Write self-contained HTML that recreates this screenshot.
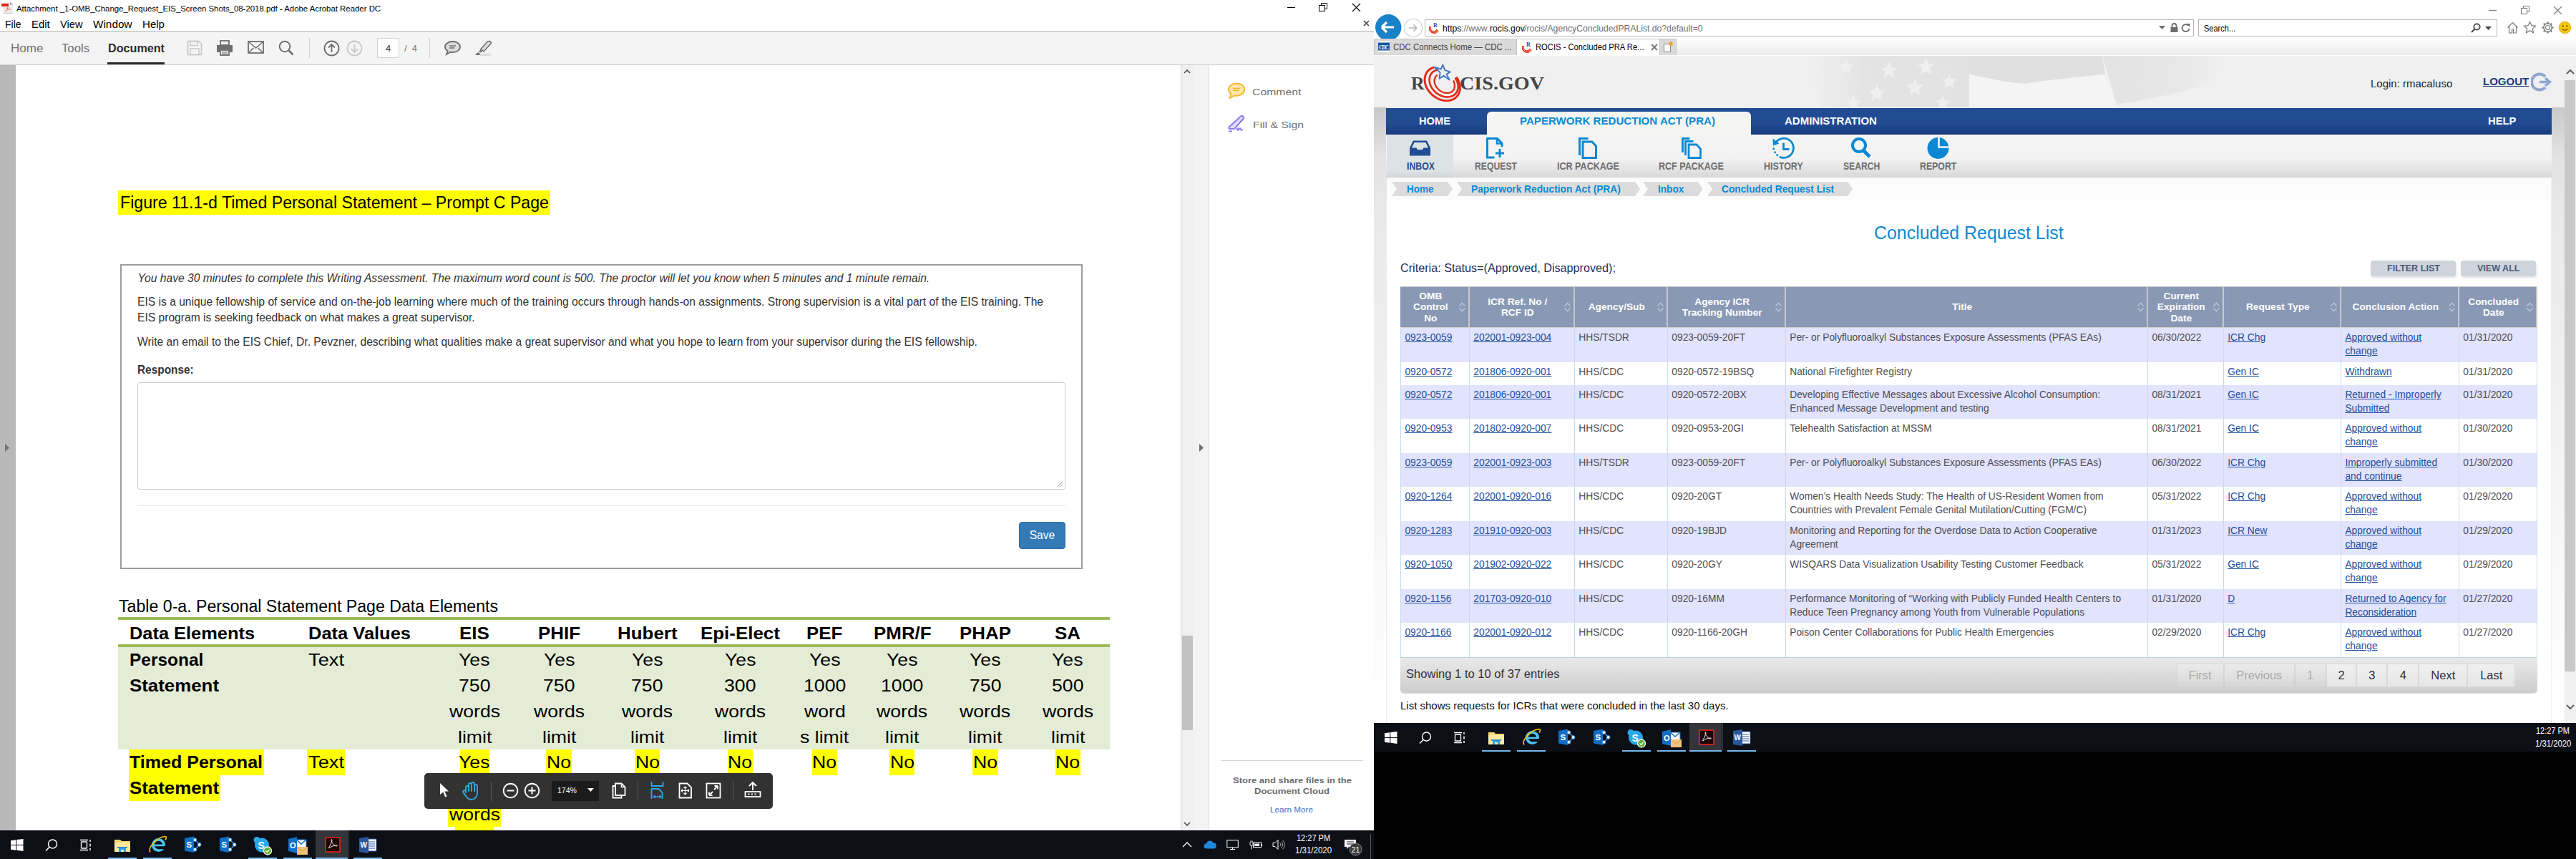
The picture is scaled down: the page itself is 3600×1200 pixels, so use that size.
<!DOCTYPE html><html><head><meta charset="utf-8"><style>
html,body{margin:0;padding:0;width:3600px;height:1200px;overflow:hidden;background:#000;}
body{position:relative;font-family:"Liberation Sans",sans-serif;}
body>div,body>svg{position:absolute;}
</style></head><body>
<div style="left:0px;top:0px;width:1920px;height:1160px;background:#ffffff;"></div>
<svg style="left:0px;top:0px;" width="20" height="20" viewBox="0 0 20 20"><rect x="4.2" y="3" width="13.7" height="15.5" fill="#ececec"/><path d="M14 3l3.9 3.7H14z" fill="#aaa"/><rect x="4.8" y="18" width="13" height="0.9" fill="#bbb"/><rect x="2" y="5" width="10" height="4" fill="#e8200c"/><path d="M11 9.5c0 2.5-1.2 4.5-3 6.3M11.2 12.2l3.6 1.6" stroke="#ef5d4c" stroke-width="1.1" fill="none"/></svg>
<div style="left:23.00px;top:6.85px;font-size:11.4px;line-height:11.4px;color:#000;font-family:'Liberation Sans', sans-serif;white-space:pre;">Attachment _1-OMB_Change_Request_EIS_Screen Shots_08-2018.pdf - Adobe Acrobat Reader DC</div>
<div style="left:1799px;top:10px;width:11px;height:1px;background:#000;"></div>
<svg style="left:1843px;top:4px;" width="13" height="12" viewBox="0 0 13 12"><rect x="0.5" y="3.5" width="8" height="8" fill="none" stroke="#000"/><path d="M3.5 3.5V0.5h8v8h-3" fill="none" stroke="#000"/></svg>
<svg style="left:1889px;top:4px;" width="13" height="13" viewBox="0 0 13 13"><path d="M1 1L12 12M12 1L1 12" stroke="#000" stroke-width="1.1"/></svg>
<svg style="left:1905px;top:28px;" width="9" height="9" viewBox="0 0 9 9"><path d="M1 1L8 8M8 1L1 8" stroke="#444" stroke-width="1.6"/></svg>
<div style="left:7.00px;top:26.93px;font-size:14.5px;line-height:14.5px;color:#000;font-family:'Liberation Sans', sans-serif;white-space:pre;transform:scaleX(0.9631);transform-origin:0 0;">File</div>
<div style="left:44.00px;top:26.93px;font-size:14.5px;line-height:14.5px;color:#000;font-family:'Liberation Sans', sans-serif;white-space:pre;transform:scaleX(1.0306);transform-origin:0 0;">Edit</div>
<div style="left:84.00px;top:26.93px;font-size:14.5px;line-height:14.5px;color:#000;font-family:'Liberation Sans', sans-serif;white-space:pre;transform:scaleX(1.0187);transform-origin:0 0;">View</div>
<div style="left:130.00px;top:26.93px;font-size:14.5px;line-height:14.5px;color:#000;font-family:'Liberation Sans', sans-serif;white-space:pre;transform:scaleX(1.0568);transform-origin:0 0;">Window</div>
<div style="left:199.00px;top:26.93px;font-size:14.5px;line-height:14.5px;color:#000;font-family:'Liberation Sans', sans-serif;white-space:pre;transform:scaleX(1.0396);transform-origin:0 0;">Help</div>
<div style="left:0px;top:43px;width:1920px;height:1px;background:#c9c9c9;"></div>
<div style="left:0px;top:44px;width:1920px;height:1px;background:#dcdcdc;"></div>
<div style="left:0px;top:45px;width:1920px;height:45px;background:#f4f4f4;"></div>
<div style="left:0px;top:90px;width:1920px;height:1px;background:#cfcfcf;"></div>
<div style="left:14.50px;top:59.03px;font-size:16.5px;line-height:16.5px;color:#707070;font-family:'Liberation Sans', sans-serif;white-space:pre;transform:scaleX(1.0338);transform-origin:0 0;">Home</div>
<div style="left:85.50px;top:59.03px;font-size:16.5px;line-height:16.5px;color:#707070;font-family:'Liberation Sans', sans-serif;white-space:pre;transform:scaleX(1.0125);transform-origin:0 0;">Tools</div>
<div style="left:150.50px;top:59.03px;font-size:16.5px;line-height:16.5px;color:#2c2c2c;font-family:'Liberation Sans', sans-serif;white-space:pre;font-weight:bold;transform:scaleX(0.9793);transform-origin:0 0;">Document</div>
<div style="left:150px;top:87px;width:80px;height:3px;background:#2c2c2c;"></div>
<svg style="left:261px;top:56px;" width="22" height="22" viewBox="0 0 22 22"><path d="M1.5 1.5h15l4 4v15h-19z" fill="none" stroke="#c6c6c6" stroke-width="1.6"/><rect x="5" y="1.5" width="10" height="6" fill="none" stroke="#c6c6c6" stroke-width="1.4"/><rect x="5" y="12" width="12" height="8.5" fill="none" stroke="#c6c6c6" stroke-width="1.4"/></svg>
<svg style="left:302px;top:56px;" width="24" height="22" viewBox="0 0 24 22"><rect x="6" y="1" width="12" height="6" fill="none" stroke="#6e6e6e" stroke-width="1.8"/><path d="M1 7h22v10h-4v-4H5v4H1z" fill="#6e6e6e"/><rect x="6" y="14" width="12" height="7" fill="none" stroke="#6e6e6e" stroke-width="1.8"/><path d="M8 17h8M8 19h8" stroke="#6e6e6e" stroke-width="1"/></svg>
<svg style="left:346px;top:57px;" width="23" height="19" viewBox="0 0 23 19"><rect x="1" y="1" width="21" height="16" fill="none" stroke="#6e6e6e" stroke-width="1.8"/><path d="M1 1l10.5 9L22 1M1 17l7.5-7M22 17l-7.5-7" fill="none" stroke="#6e6e6e" stroke-width="1.5"/></svg>
<svg style="left:389px;top:56px;" width="22" height="22" viewBox="0 0 22 22"><circle cx="9" cy="9" r="7.3" fill="none" stroke="#6e6e6e" stroke-width="2"/><path d="M14.5 14.5L20.5 20.5" stroke="#6e6e6e" stroke-width="2.5"/></svg>
<div style="left:432px;top:53px;width:1px;height:28px;background:#cfcfcf;"></div>
<svg style="left:452px;top:56px;" width="23" height="23" viewBox="0 0 23 23"><circle cx="11.5" cy="11.5" r="10" fill="none" stroke="#6e6e6e" stroke-width="1.8"/><path d="M11.5 17V6M7 10.5l4.5-4.5 4.5 4.5" fill="none" stroke="#6e6e6e" stroke-width="1.8"/></svg>
<svg style="left:484px;top:56px;" width="23" height="23" viewBox="0 0 23 23"><circle cx="11.5" cy="11.5" r="10" fill="none" stroke="#c8c8c8" stroke-width="1.8"/><path d="M11.5 6v11M7 12.5l4.5 4.5 4.5-4.5" fill="none" stroke="#c8c8c8" stroke-width="1.8"/></svg>
<div style="left:527px;top:53px;width:31px;height:28px;background:#fff;box-sizing:border-box;border:1px solid #cfcfcf;"></div>
<div style="left:538.89px;top:60.50px;font-size:13px;line-height:13px;color:#333;font-family:'Liberation Sans', sans-serif;white-space:pre;">4</div>
<div style="left:565.00px;top:60.50px;font-size:13px;line-height:13px;color:#777;font-family:'Liberation Sans', sans-serif;white-space:pre;">/  4</div>
<div style="left:600px;top:53px;width:1px;height:28px;background:#cfcfcf;"></div>
<svg style="left:620px;top:56px;" width="25" height="22" viewBox="0 0 25 22"><path d="M12.5 2C6.5 2 2 5.5 2 9.5c0 2.3 1.4 4.3 3.6 5.6L4 20l5.3-3.2c1 .2 2.1.3 3.2.3 6 0 10.5-3.4 10.5-7.6S18.5 2 12.5 2z" fill="#dcdcdc" stroke="#6e6e6e" stroke-width="1.8"/><path d="M8 8h9M8 11h7" stroke="#6e6e6e" stroke-width="1.3"/></svg>
<svg style="left:664px;top:55px;" width="24" height="24" viewBox="0 0 24 24"><path d="M20 2.5a2.2 2.2 0 0 1 1.8 3.5L12 17l-4-3.5L17.5 3z" fill="#dedede" stroke="#6e6e6e" stroke-width="1.6"/><path d="M7.5 14L5 17.5l2.5 1 2.5-2z" fill="#6e6e6e"/><path d="M0 22l4-4 3 2-1 2z" fill="#6e6e6e"/><rect x="7" y="19.5" width="15" height="3.5" fill="#dedede"/></svg>
<div style="left:0px;top:91px;width:22px;height:1069px;background:#b9b9b9;"></div>
<svg style="left:6px;top:619px;" width="8" height="13" viewBox="0 0 8 13"><path d="M1 1l6 5.5L1 12z" fill="#707070"/></svg>
<div style="left:1650px;top:91px;width:1px;height:1069px;background:#d4d4d4;"></div>
<div style="left:1651px;top:91px;width:17px;height:1069px;background:#f0f0f0;"></div>
<svg style="left:1653px;top:95px;" width="12" height="10" viewBox="0 0 12 10"><path d="M2 7l4-4 4 4" fill="none" stroke="#505050" stroke-width="1.6"/></svg>
<div style="left:1652px;top:888px;width:15px;height:132px;background:#c2c2c2;"></div>
<svg style="left:1653px;top:1146px;" width="12" height="10" viewBox="0 0 12 10"><path d="M2 3l4 4 4-4" fill="none" stroke="#505050" stroke-width="1.6"/></svg>
<div style="left:1668px;top:91px;width:21px;height:1069px;background:#f3f3f3;"></div>
<div style="left:1689px;top:91px;width:1px;height:1069px;background:#dedede;"></div>
<svg style="left:1675px;top:619px;" width="8" height="13" viewBox="0 0 8 13"><path d="M1 1l6 5.5L1 12z" fill="#707070"/></svg>
<svg style="left:1715px;top:115px;" width="26" height="24" viewBox="0 0 26 24"><path d="M13 1.5C6.9 1.5 1.8 5.2 1.8 9.8c0 2.4 1.4 4.6 3.6 6.1L3.5 22l6.4-3.5c1 .2 2 .3 3.1.3 6.1 0 11.2-3.7 11.2-8.9S19.1 1.5 13 1.5z" fill="#fde6a6" stroke="#f5b832" stroke-width="1.9"/><path d="M8 8.5h10M8 11.5h8" stroke="#f5b832" stroke-width="1.4"/></svg>
<div style="left:1750.30px;top:121.97px;font-size:13.5px;line-height:13.5px;color:#6e6e6e;font-family:'Liberation Sans', sans-serif;white-space:pre;transform:scaleX(1.1690);transform-origin:0 0;">Comment</div>
<svg style="left:1715px;top:160px;" width="26" height="26" viewBox="0 0 26 26"><path d="M19 2.5a2.5 2.5 0 0 1 3.5 3.5L10 20H2.5v-2.5z" fill="#e3def8" stroke="#8b7cf0" stroke-width="2"/><path d="M2 23.5h5" stroke="#8b7cf0" stroke-width="2"/><path d="M13 21c1-2 2-2 2 0s1 1 2-1 2 0 2 1 1 1 3 0" fill="none" stroke="#8b7cf0" stroke-width="1.8"/></svg>
<div style="left:1750.50px;top:167.57px;font-size:13.5px;line-height:13.5px;color:#6e6e6e;font-family:'Liberation Sans', sans-serif;white-space:pre;transform:scaleX(1.1684);transform-origin:0 0;">Fill &amp; Sign</div>
<div style="left:1706px;top:1062px;width:199px;height:1px;background:#d8d8d8;"></div>
<div style="left:1722.50px;top:1084.57px;font-size:11.5px;line-height:11.5px;color:#6b6b6b;font-family:'Liberation Sans', sans-serif;white-space:pre;font-weight:bold;transform:scaleX(1.1295);transform-origin:0 0;">Store and share files in the</div>
<div style="left:1753.00px;top:1100.07px;font-size:11.5px;line-height:11.5px;color:#6b6b6b;font-family:'Liberation Sans', sans-serif;white-space:pre;font-weight:bold;transform:scaleX(1.1414);transform-origin:0 0;">Document Cloud</div>
<div style="left:1775.00px;top:1126.17px;font-size:11.5px;line-height:11.5px;color:#2d73c8;font-family:'Liberation Sans', sans-serif;white-space:pre;transform:scaleX(1.0204);transform-origin:0 0;">Learn More</div>
<div style="left:165px;top:266px;width:604px;height:34px;background:#ffff00;"></div>
<div style="left:167.70px;top:271.01px;font-size:24.8px;line-height:24.8px;color:#000;font-family:'Liberation Sans', sans-serif;white-space:pre;transform:scaleX(0.9332);transform-origin:0 0;">Figure 11.1-d Timed Personal Statement – Prompt C Page</div>
<div style="left:168px;top:369px;width:1345px;height:426px;background:#fff;box-sizing:border-box;border:2px solid #9d9d9d;"></div>
<div style="left:192.50px;top:380.52px;font-size:15.63px;line-height:15.63px;color:#333;font-family:'Liberation Sans', sans-serif;white-space:pre;font-style:italic;">You have 30 minutes to complete this Writing Assessment. The maximum word count is 500. The proctor will let you know when 5 minutes and 1 minute remain.</div>
<div style="left:192.00px;top:414.27px;font-size:15.63px;line-height:15.63px;color:#333;font-family:'Liberation Sans', sans-serif;white-space:pre;">EIS is a unique fellowship of service and on-the-job learning where much of the training occurs through hands-on assignments. Strong supervision is a vital part of the EIS training. The</div>
<div style="left:192.00px;top:436.27px;font-size:15.63px;line-height:15.63px;color:#333;font-family:'Liberation Sans', sans-serif;white-space:pre;">EIS program is seeking feedback on what makes a great supervisor.</div>
<div style="left:192.00px;top:470.02px;font-size:15.63px;line-height:15.63px;color:#333;font-family:'Liberation Sans', sans-serif;white-space:pre;">Write an email to the EIS Chief, Dr. Pevzner, describing what qualities make a great supervisor and what you hope to learn from your supervisor during the EIS fellowship.</div>
<div style="left:192.00px;top:509.27px;font-size:15.63px;line-height:15.63px;color:#333;font-family:'Liberation Sans', sans-serif;white-space:pre;font-weight:bold;transform:scaleX(0.9856);transform-origin:0 0;">Response:</div>
<div style="left:192px;top:534px;width:1297px;height:150px;background:#fff;box-sizing:border-box;border:1px solid #cccccc;border-radius:4px;"></div>
<svg style="left:1476px;top:671px;" width="10" height="10" viewBox="0 0 10 10"><path d="M9 2L2 9M9 6L6 9" stroke="#999" stroke-width="1"/></svg>
<div style="left:192px;top:706px;width:1297px;height:1px;background:#e5e5e5;"></div>
<div style="left:1424px;top:729px;width:65px;height:38px;background:#337ab7;border-radius:4px;box-sizing:border-box;border:1px solid #2e6da4;"></div>
<div style="left:1438.70px;top:740.19px;font-size:15.6px;line-height:15.6px;color:#fff;font-family:'Liberation Sans', sans-serif;white-space:pre;">Save</div>
<div style="left:166.00px;top:835.81px;font-size:23.5px;line-height:23.5px;color:#000;font-family:'Liberation Sans', sans-serif;white-space:pre;transform:scaleX(0.9848);transform-origin:0 0;">Table 0-a. Personal Statement Page Data Elements</div>
<div style="left:165px;top:862px;width:1386px;height:4px;background:#9bbb59;"></div>
<div style="left:165px;top:900px;width:1386px;height:4px;background:#9bbb59;"></div>
<div style="left:165px;top:904px;width:1386px;height:142.5px;background:#e4ecd6;"></div>
<div style="left:180.80px;top:872.68px;font-size:24.0px;line-height:24.0px;color:#000;font-family:'Liberation Sans', sans-serif;white-space:pre;font-weight:bold;transform:scaleX(1.0581);transform-origin:0 0;">Data Elements</div>
<div style="left:430.80px;top:872.68px;font-size:24.0px;line-height:24.0px;color:#000;font-family:'Liberation Sans', sans-serif;white-space:pre;font-weight:bold;transform:scaleX(1.0614);transform-origin:0 0;">Data Values</div>
<div style="left:642.31px;top:872.68px;font-size:24.0px;line-height:24.0px;color:#000;font-family:'Liberation Sans', sans-serif;white-space:pre;font-weight:bold;transform:scaleX(1.0800);transform-origin:0 0;">EIS</div>
<div style="left:751.78px;top:872.68px;font-size:24.0px;line-height:24.0px;color:#000;font-family:'Liberation Sans', sans-serif;white-space:pre;font-weight:bold;transform:scaleX(1.0800);transform-origin:0 0;">PHIF</div>
<div style="left:862.94px;top:872.68px;font-size:24.0px;line-height:24.0px;color:#000;font-family:'Liberation Sans', sans-serif;white-space:pre;font-weight:bold;transform:scaleX(1.0800);transform-origin:0 0;">Hubert</div>
<div style="left:978.95px;top:872.68px;font-size:24.0px;line-height:24.0px;color:#000;font-family:'Liberation Sans', sans-serif;white-space:pre;font-weight:bold;transform:scaleX(1.0800);transform-origin:0 0;">Epi-Elect</div>
<div style="left:1127.29px;top:872.68px;font-size:24.0px;line-height:24.0px;color:#000;font-family:'Liberation Sans', sans-serif;white-space:pre;font-weight:bold;transform:scaleX(1.0800);transform-origin:0 0;">PEF</div>
<div style="left:1220.58px;top:872.68px;font-size:24.0px;line-height:24.0px;color:#000;font-family:'Liberation Sans', sans-serif;white-space:pre;font-weight:bold;transform:scaleX(1.0800);transform-origin:0 0;">PMR/F</div>
<div style="left:1340.79px;top:872.68px;font-size:24.0px;line-height:24.0px;color:#000;font-family:'Liberation Sans', sans-serif;white-space:pre;font-weight:bold;transform:scaleX(1.0800);transform-origin:0 0;">PHAP</div>
<div style="left:1474.20px;top:872.68px;font-size:24.0px;line-height:24.0px;color:#000;font-family:'Liberation Sans', sans-serif;white-space:pre;font-weight:bold;transform:scaleX(1.0800);transform-origin:0 0;">SA</div>
<div style="left:180.80px;top:910.28px;font-size:24.0px;line-height:24.0px;color:#000;font-family:'Liberation Sans', sans-serif;white-space:pre;font-weight:bold;transform:scaleX(1.0190);transform-origin:0 0;">Personal</div>
<div style="left:180.80px;top:946.28px;font-size:24.0px;line-height:24.0px;color:#000;font-family:'Liberation Sans', sans-serif;white-space:pre;font-weight:bold;transform:scaleX(1.0774);transform-origin:0 0;">Statement</div>
<div style="left:430.80px;top:910.28px;font-size:24.0px;line-height:24.0px;color:#000;font-family:'Liberation Sans', sans-serif;white-space:pre;transform:scaleX(1.1360);transform-origin:0 0;">Text</div>
<div style="left:641.47px;top:910.28px;font-size:24.0px;line-height:24.0px;color:#000;font-family:'Liberation Sans', sans-serif;white-space:pre;transform:scaleX(1.1100);transform-origin:0 0;">Yes</div>
<div style="left:640.98px;top:946.28px;font-size:24.0px;line-height:24.0px;color:#000;font-family:'Liberation Sans', sans-serif;white-space:pre;transform:scaleX(1.1100);transform-origin:0 0;">750</div>
<div style="left:627.67px;top:981.98px;font-size:24.0px;line-height:24.0px;color:#000;font-family:'Liberation Sans', sans-serif;white-space:pre;transform:scaleX(1.1100);transform-origin:0 0;">words</div>
<div style="left:639.53px;top:1017.68px;font-size:24.0px;line-height:24.0px;color:#000;font-family:'Liberation Sans', sans-serif;white-space:pre;transform:scaleX(1.1100);transform-origin:0 0;">limit</div>
<div style="left:759.57px;top:910.28px;font-size:24.0px;line-height:24.0px;color:#000;font-family:'Liberation Sans', sans-serif;white-space:pre;transform:scaleX(1.1100);transform-origin:0 0;">Yes</div>
<div style="left:759.08px;top:946.28px;font-size:24.0px;line-height:24.0px;color:#000;font-family:'Liberation Sans', sans-serif;white-space:pre;transform:scaleX(1.1100);transform-origin:0 0;">750</div>
<div style="left:745.77px;top:981.98px;font-size:24.0px;line-height:24.0px;color:#000;font-family:'Liberation Sans', sans-serif;white-space:pre;transform:scaleX(1.1100);transform-origin:0 0;">words</div>
<div style="left:757.63px;top:1017.68px;font-size:24.0px;line-height:24.0px;color:#000;font-family:'Liberation Sans', sans-serif;white-space:pre;transform:scaleX(1.1100);transform-origin:0 0;">limit</div>
<div style="left:882.97px;top:910.28px;font-size:24.0px;line-height:24.0px;color:#000;font-family:'Liberation Sans', sans-serif;white-space:pre;transform:scaleX(1.1100);transform-origin:0 0;">Yes</div>
<div style="left:882.48px;top:946.28px;font-size:24.0px;line-height:24.0px;color:#000;font-family:'Liberation Sans', sans-serif;white-space:pre;transform:scaleX(1.1100);transform-origin:0 0;">750</div>
<div style="left:869.17px;top:981.98px;font-size:24.0px;line-height:24.0px;color:#000;font-family:'Liberation Sans', sans-serif;white-space:pre;transform:scaleX(1.1100);transform-origin:0 0;">words</div>
<div style="left:881.03px;top:1017.68px;font-size:24.0px;line-height:24.0px;color:#000;font-family:'Liberation Sans', sans-serif;white-space:pre;transform:scaleX(1.1100);transform-origin:0 0;">limit</div>
<div style="left:1012.67px;top:910.28px;font-size:24.0px;line-height:24.0px;color:#000;font-family:'Liberation Sans', sans-serif;white-space:pre;transform:scaleX(1.1100);transform-origin:0 0;">Yes</div>
<div style="left:1012.18px;top:946.28px;font-size:24.0px;line-height:24.0px;color:#000;font-family:'Liberation Sans', sans-serif;white-space:pre;transform:scaleX(1.1100);transform-origin:0 0;">300</div>
<div style="left:998.87px;top:981.98px;font-size:24.0px;line-height:24.0px;color:#000;font-family:'Liberation Sans', sans-serif;white-space:pre;transform:scaleX(1.1100);transform-origin:0 0;">words</div>
<div style="left:1010.73px;top:1017.68px;font-size:24.0px;line-height:24.0px;color:#000;font-family:'Liberation Sans', sans-serif;white-space:pre;transform:scaleX(1.1100);transform-origin:0 0;">limit</div>
<div style="left:1130.77px;top:910.28px;font-size:24.0px;line-height:24.0px;color:#000;font-family:'Liberation Sans', sans-serif;white-space:pre;transform:scaleX(1.1100);transform-origin:0 0;">Yes</div>
<div style="left:1122.87px;top:946.28px;font-size:24.0px;line-height:24.0px;color:#000;font-family:'Liberation Sans', sans-serif;white-space:pre;transform:scaleX(1.1100);transform-origin:0 0;">1000</div>
<div style="left:1123.63px;top:981.98px;font-size:24.0px;line-height:24.0px;color:#000;font-family:'Liberation Sans', sans-serif;white-space:pre;transform:scaleX(1.1100);transform-origin:0 0;">word</div>
<div style="left:1118.47px;top:1017.68px;font-size:24.0px;line-height:24.0px;color:#000;font-family:'Liberation Sans', sans-serif;white-space:pre;transform:scaleX(1.1100);transform-origin:0 0;">s limit</div>
<div style="left:1239.17px;top:910.28px;font-size:24.0px;line-height:24.0px;color:#000;font-family:'Liberation Sans', sans-serif;white-space:pre;transform:scaleX(1.1100);transform-origin:0 0;">Yes</div>
<div style="left:1231.27px;top:946.28px;font-size:24.0px;line-height:24.0px;color:#000;font-family:'Liberation Sans', sans-serif;white-space:pre;transform:scaleX(1.1100);transform-origin:0 0;">1000</div>
<div style="left:1225.37px;top:981.98px;font-size:24.0px;line-height:24.0px;color:#000;font-family:'Liberation Sans', sans-serif;white-space:pre;transform:scaleX(1.1100);transform-origin:0 0;">words</div>
<div style="left:1237.23px;top:1017.68px;font-size:24.0px;line-height:24.0px;color:#000;font-family:'Liberation Sans', sans-serif;white-space:pre;transform:scaleX(1.1100);transform-origin:0 0;">limit</div>
<div style="left:1355.07px;top:910.28px;font-size:24.0px;line-height:24.0px;color:#000;font-family:'Liberation Sans', sans-serif;white-space:pre;transform:scaleX(1.1100);transform-origin:0 0;">Yes</div>
<div style="left:1354.58px;top:946.28px;font-size:24.0px;line-height:24.0px;color:#000;font-family:'Liberation Sans', sans-serif;white-space:pre;transform:scaleX(1.1100);transform-origin:0 0;">750</div>
<div style="left:1341.27px;top:981.98px;font-size:24.0px;line-height:24.0px;color:#000;font-family:'Liberation Sans', sans-serif;white-space:pre;transform:scaleX(1.1100);transform-origin:0 0;">words</div>
<div style="left:1353.13px;top:1017.68px;font-size:24.0px;line-height:24.0px;color:#000;font-family:'Liberation Sans', sans-serif;white-space:pre;transform:scaleX(1.1100);transform-origin:0 0;">limit</div>
<div style="left:1470.47px;top:910.28px;font-size:24.0px;line-height:24.0px;color:#000;font-family:'Liberation Sans', sans-serif;white-space:pre;transform:scaleX(1.1100);transform-origin:0 0;">Yes</div>
<div style="left:1469.98px;top:946.28px;font-size:24.0px;line-height:24.0px;color:#000;font-family:'Liberation Sans', sans-serif;white-space:pre;transform:scaleX(1.1100);transform-origin:0 0;">500</div>
<div style="left:1456.67px;top:981.98px;font-size:24.0px;line-height:24.0px;color:#000;font-family:'Liberation Sans', sans-serif;white-space:pre;transform:scaleX(1.1100);transform-origin:0 0;">words</div>
<div style="left:1468.53px;top:1017.68px;font-size:24.0px;line-height:24.0px;color:#000;font-family:'Liberation Sans', sans-serif;white-space:pre;transform:scaleX(1.1100);transform-origin:0 0;">limit</div>
<div style="left:180px;top:1046.5px;width:188.5px;height:36.5px;background:#ffff00;"></div>
<div style="left:180px;top:1083px;width:127.5px;height:36px;background:#ffff00;"></div>
<div style="left:429px;top:1046.5px;width:53px;height:36.5px;background:#ffff00;"></div>
<div style="left:643.3px;top:1046.5px;width:40.7px;height:36.5px;background:#ffff00;"></div>
<div style="left:626px;top:1119px;width:73.5px;height:36px;background:#ffff00;"></div>
<div style="left:636px;top:1155px;width:54px;height:5px;background:#ffff00;"></div>
<div style="left:763.2px;top:1046.5px;width:35.39999999999998px;height:36.5px;background:#ffff00;"></div>
<div style="left:887px;top:1046.5px;width:34.60000000000002px;height:36.5px;background:#ffff00;"></div>
<div style="left:1017px;top:1046.5px;width:34.700000000000045px;height:36.5px;background:#ffff00;"></div>
<div style="left:1134.8px;top:1046.5px;width:35.40000000000009px;height:36.5px;background:#ffff00;"></div>
<div style="left:1242.7px;top:1046.5px;width:35.299999999999955px;height:36.5px;background:#ffff00;"></div>
<div style="left:1359px;top:1046.5px;width:35.5px;height:36.5px;background:#ffff00;"></div>
<div style="left:1475px;top:1046.5px;width:35.40000000000009px;height:36.5px;background:#ffff00;"></div>
<div style="left:180.80px;top:1053.18px;font-size:24.0px;line-height:24.0px;color:#000;font-family:'Liberation Sans', sans-serif;white-space:pre;font-weight:bold;transform:scaleX(1.0433);transform-origin:0 0;">Timed Personal</div>
<div style="left:180.80px;top:1089.48px;font-size:24.0px;line-height:24.0px;color:#000;font-family:'Liberation Sans', sans-serif;white-space:pre;font-weight:bold;transform:scaleX(1.0774);transform-origin:0 0;">Statement</div>
<div style="left:430.80px;top:1053.18px;font-size:24.0px;line-height:24.0px;color:#000;font-family:'Liberation Sans', sans-serif;white-space:pre;transform:scaleX(1.1360);transform-origin:0 0;">Text</div>
<div style="left:641.47px;top:1053.18px;font-size:24.0px;line-height:24.0px;color:#000;font-family:'Liberation Sans', sans-serif;white-space:pre;transform:scaleX(1.1100);transform-origin:0 0;">Yes</div>
<div style="left:627.67px;top:1125.68px;font-size:24.0px;line-height:24.0px;color:#000;font-family:'Liberation Sans', sans-serif;white-space:pre;transform:scaleX(1.1100);transform-origin:0 0;">words</div>
<div style="left:764.27px;top:1053.18px;font-size:24.0px;line-height:24.0px;color:#000;font-family:'Liberation Sans', sans-serif;white-space:pre;transform:scaleX(1.1100);transform-origin:0 0;">No</div>
<div style="left:887.67px;top:1053.18px;font-size:24.0px;line-height:24.0px;color:#000;font-family:'Liberation Sans', sans-serif;white-space:pre;transform:scaleX(1.1100);transform-origin:0 0;">No</div>
<div style="left:1017.37px;top:1053.18px;font-size:24.0px;line-height:24.0px;color:#000;font-family:'Liberation Sans', sans-serif;white-space:pre;transform:scaleX(1.1100);transform-origin:0 0;">No</div>
<div style="left:1135.47px;top:1053.18px;font-size:24.0px;line-height:24.0px;color:#000;font-family:'Liberation Sans', sans-serif;white-space:pre;transform:scaleX(1.1100);transform-origin:0 0;">No</div>
<div style="left:1243.87px;top:1053.18px;font-size:24.0px;line-height:24.0px;color:#000;font-family:'Liberation Sans', sans-serif;white-space:pre;transform:scaleX(1.1100);transform-origin:0 0;">No</div>
<div style="left:1359.77px;top:1053.18px;font-size:24.0px;line-height:24.0px;color:#000;font-family:'Liberation Sans', sans-serif;white-space:pre;transform:scaleX(1.1100);transform-origin:0 0;">No</div>
<div style="left:1475.17px;top:1053.18px;font-size:24.0px;line-height:24.0px;color:#000;font-family:'Liberation Sans', sans-serif;white-space:pre;transform:scaleX(1.1100);transform-origin:0 0;">No</div>
<div style="left:593px;top:1080px;width:487px;height:50px;background:#323232;border-radius:5px;"></div>
<svg style="left:613px;top:1093px;" width="16" height="22" viewBox="0 0 16 22"><path d="M2 1l12 11.5H8.5l3 7-2.3 1-3-7L2 17z" fill="#fff"/></svg>
<svg style="left:645px;top:1092px;" width="27" height="27" viewBox="0 0 27 27"><path d="M6 15V8a2 2 0 0 1 4 0v5V4a2 2 0 0 1 4 0v9V3a2 2 0 0 1 4 0v10V6a2 2 0 0 1 4 0v10c0 5-3.5 9-8.5 9-3.5 0-5.5-2-7.5-5L2.5 15a1.8 1.8 0 0 1 3-2z" fill="none" stroke="#2ea8e5" stroke-width="1.9" stroke-linejoin="round"/></svg>
<div style="left:686px;top:1092px;width:1px;height:27px;background:#5a5a5a;"></div>
<svg style="left:702px;top:1093px;" width="23" height="23" viewBox="0 0 23 23"><circle cx="11.5" cy="11.5" r="9.8" fill="none" stroke="#fff" stroke-width="1.9"/><path d="M6.5 11.5h10" stroke="#fff" stroke-width="2"/></svg>
<svg style="left:732px;top:1093px;" width="23" height="23" viewBox="0 0 23 23"><circle cx="11.5" cy="11.5" r="9.8" fill="none" stroke="#fff" stroke-width="1.9"/><path d="M6.5 11.5h10M11.5 6.5v10" stroke="#fff" stroke-width="2"/></svg>
<div style="left:771px;top:1091px;width:66px;height:28px;background:#1b1b1b;"></div>
<div style="left:779.00px;top:1098.77px;font-size:11.5px;line-height:11.5px;color:#fff;font-family:'Liberation Sans', sans-serif;white-space:pre;transform:scaleX(0.9180);transform-origin:0 0;">174%</div>
<svg style="left:821px;top:1101px;" width="10" height="6" viewBox="0 0 10 6"><path d="M0 0h9L4.5 5z" fill="#fff"/></svg>
<svg style="left:855px;top:1093px;" width="20" height="23" viewBox="0 0 20 23"><path d="M5 5H1.5v16.5h12V18" fill="none" stroke="#fff" stroke-width="1.8"/><path d="M5 1.5h8.5l5 5v11.5H5z" fill="none" stroke="#fff" stroke-width="1.8"/><path d="M13.5 1.5v5h5" fill="none" stroke="#fff" stroke-width="1.5"/></svg>
<div style="left:891px;top:1092px;width:1px;height:27px;background:#5a5a5a;"></div>
<svg style="left:909px;top:1092px;" width="20" height="26" viewBox="0 0 20 26"><path d="M1.5 0v6h16V0" fill="none" stroke="#2ea8e5" stroke-width="1.8"/><path d="M1.5 24V10h10l5 5v9" fill="none" stroke="#2ea8e5" stroke-width="1.8"/><path d="M4 21h11M4 21l2.5-2M4 21l2.5 2M15 21l-2.5-2M15 21l-2.5 2" stroke="#2ea8e5" stroke-width="1.4" fill="none"/></svg>
<svg style="left:948px;top:1093px;" width="20" height="23" viewBox="0 0 20 23"><path d="M1.5 1.5h11l5.5 5.5v14.5H1.5z" fill="none" stroke="#fff" stroke-width="1.8"/><path d="M9.5 6v11M4 11.5h11M9.5 6l-2 2M9.5 6l2 2M9.5 17l-2-2M9.5 17l2-2M4 11.5l2-2M4 11.5l2 2M15 11.5l-2-2M15 11.5l-2 2" stroke="#fff" stroke-width="1.2" fill="none"/></svg>
<svg style="left:986px;top:1093px;" width="22" height="23" viewBox="0 0 22 23"><rect x="1.5" y="1.5" width="19" height="20" fill="none" stroke="#fff" stroke-width="1.8"/><path d="M5 18l5-5M5 18h4.5M5 18v-4.5M17 5l-5 5M17 5h-4.5M17 5v4.5" stroke="#fff" stroke-width="1.8" fill="none"/></svg>
<div style="left:1024px;top:1092px;width:1px;height:27px;background:#5a5a5a;"></div>
<svg style="left:1040px;top:1092px;" width="24" height="22" viewBox="0 0 24 22"><path d="M12 1v11M7 6l5-5 5 5" fill="none" stroke="#fff" stroke-width="1.9"/><rect x="1.5" y="14" width="21" height="7" fill="none" stroke="#fff" stroke-width="1.8"/><path d="M5.5 17.5h2M10 17.5h2M14.5 17.5h2" stroke="#fff" stroke-width="2"/></svg>
<div style="left:1920px;top:0px;width:1680px;height:1050px;background:#ffffff;"></div>
<div style="left:3478px;top:14px;width:11px;height:1px;background:#777;"></div>
<svg style="left:3523px;top:8px;" width="14" height="12" viewBox="0 0 14 12"><rect x="0.5" y="3.5" width="8" height="8" fill="none" stroke="#777"/><path d="M3.5 3.5V0.5h8v8h-3" fill="none" stroke="#777"/></svg>
<svg style="left:3568px;top:8px;" width="13" height="13" viewBox="0 0 13 13"><path d="M1 1L12 12M12 1L1 12" stroke="#777" stroke-width="1.1"/></svg>
<svg style="left:1920px;top:18px;" width="40" height="40" viewBox="0 0 40 40"><circle cx="20.2" cy="20.3" r="18.2" fill="#1a82c8"/><path d="M11 20h17M11 20l7-7M11 20l7 7" stroke="#fff" stroke-width="3.2" fill="none" stroke-linecap="butt"/></svg>
<svg style="left:1961px;top:25px;" width="28" height="28" viewBox="0 0 28 28"><circle cx="14" cy="14" r="12.5" fill="#fff" stroke="#cfcfcf" stroke-width="1.2"/><path d="M8 14h11M14.5 9.5L19 14l-4.5 4.5" stroke="#b5b5b5" stroke-width="1.6" fill="none"/></svg>
<div style="left:1991px;top:27px;width:1075px;height:24px;background:#fff;box-sizing:border-box;border:1px solid #b9b9b9;"></div>
<svg style="left:1995px;top:31px;" width="17" height="16" viewBox="0 0 17 16"><path d="M3 6a6 6 0 1 0 11 5" fill="none" stroke="#e0301e" stroke-width="1.4"/><path d="M5 6a4.5 4.5 0 1 0 8 4" fill="none" stroke="#e0301e" stroke-width="1.2"/><path d="M2.5 9a7 7 0 0 0 13 3" fill="none" stroke="#e0301e" stroke-width="1"/><text x="8" y="7" font-size="8" font-family="Liberation Serif" fill="#2a4f9a" font-weight="bold">R</text></svg>
<div style="left:2016.00px;top:32.57px;font-size:13.5px;line-height:13.5px;color:#000;font-family:'Liberation Sans', sans-serif;white-space:pre;transform:scaleX(0.9025);transform-origin:0 0;">https</div>
<div style="left:2042.41px;top:32.57px;font-size:13.5px;line-height:13.5px;color:#6d6d6d;font-family:'Liberation Sans', sans-serif;white-space:pre;transform:scaleX(0.9025);transform-origin:0 0;">://www.</div>
<div style="left:2081.68px;top:32.57px;font-size:13.5px;line-height:13.5px;color:#000;font-family:'Liberation Sans', sans-serif;white-space:pre;transform:scaleX(0.9025);transform-origin:0 0;">rocis.gov</div>
<div style="left:2130.43px;top:32.57px;font-size:13.5px;line-height:13.5px;color:#6d6d6d;font-family:'Liberation Sans', sans-serif;white-space:pre;transform:scaleX(0.9025);transform-origin:0 0;">/rocis/AgencyConcludedPRAList.do?default=0</div>
<svg style="left:3017px;top:36px;" width="10" height="6" viewBox="0 0 10 6"><path d="M0 0h9L4.5 5z" fill="#6d6d6d"/></svg>
<svg style="left:3032px;top:32px;" width="13" height="13" viewBox="0 0 13 13"><path d="M3.5 6V4a3 3 0 0 1 6 0v2" fill="none" stroke="#6d6d6d" stroke-width="1.8"/><rect x="1.5" y="6" width="10" height="7" fill="#6d6d6d"/></svg>
<svg style="left:3048px;top:32px;" width="13" height="13" viewBox="0 0 13 13"><path d="M10.5 4A5 5 0 1 0 11.5 8" fill="none" stroke="#6d6d6d" stroke-width="1.8"/><path d="M8 1h4.5v4.5z" fill="#6d6d6d"/></svg>
<div style="left:3072px;top:27px;width:418px;height:24px;background:#fff;box-sizing:border-box;border:1px solid #b9b9b9;"></div>
<div style="left:3080.00px;top:32.80px;font-size:13px;line-height:13px;color:#000;font-family:'Liberation Sans', sans-serif;white-space:pre;transform:scaleX(0.8458);transform-origin:0 0;">Search...</div>
<svg style="left:3453px;top:32px;" width="14" height="14" viewBox="0 0 14 14"><circle cx="8.5" cy="5.5" r="4.2" fill="none" stroke="#444" stroke-width="1.8"/><path d="M5.5 8.5L1 13" stroke="#444" stroke-width="2"/></svg>
<svg style="left:3473px;top:37px;" width="10" height="6" viewBox="0 0 10 6"><path d="M0 0h9L4.5 5z" fill="#444"/></svg>
<svg style="left:3502px;top:29px;" width="19" height="19" viewBox="0 0 19 19"><path d="M2.5 9.5L9.5 2.5 16.5 9.5M4.5 8v9h4v-5h2v5h4V8" fill="none" stroke="#777" stroke-width="1.2"/></svg>
<svg style="left:3526px;top:29px;" width="19" height="19" viewBox="0 0 19 19"><path d="M9.5 1.5l2.4 5.2 5.6.6-4.2 3.8 1.2 5.6-5-2.9-5 2.9 1.2-5.6L1.5 7.3l5.6-.6z" fill="none" stroke="#777" stroke-width="1.2"/></svg>
<svg style="left:3551px;top:29px;" width="19" height="19" viewBox="0 0 19 19"><circle cx="9.5" cy="9.5" r="3" fill="none" stroke="#777" stroke-width="1.2"/><path d="M9.5 1.5v3M9.5 14.5v3M1.5 9.5h3M14.5 9.5h3M3.8 3.8l2.1 2.1M13.1 13.1l2.1 2.1M3.8 15.2l2.1-2.1M13.1 5.9l2.1-2.1" stroke="#777" stroke-width="2.2"/><circle cx="9.5" cy="9.5" r="5.8" fill="none" stroke="#777" stroke-width="1.2"/></svg>
<svg style="left:3575px;top:29px;" width="19" height="19" viewBox="0 0 19 19"><circle cx="9.5" cy="9.5" r="8.3" fill="#f3c60e" stroke="#d8a800" stroke-width="0.8"/><circle cx="6.8" cy="7.3" r="1.1" fill="#5a4500"/><circle cx="12.2" cy="7.3" r="1.1" fill="#5a4500"/><path d="M5.5 11.3c1.8 2.6 6.2 2.6 8 0" fill="none" stroke="#5a4500" stroke-width="1.1"/></svg>
<div style="left:1920px;top:54px;width:1680px;height:23px;background:linear-gradient(#ffffff,#ebebeb);"></div>
<div style="left:1920px;top:54px;width:200px;height:23px;background:#dadada;box-sizing:border-box;border:1px solid #c4c4c4;border-bottom:none;"></div>
<svg style="left:1926px;top:58px;" width="16" height="15" viewBox="0 0 16 15"><rect x="0" y="0" width="16" height="15" fill="#fff"/><rect x="0" y="1.5" width="16" height="11" fill="#1655a3"/><text x="8" y="10.5" font-size="7.5" font-family="Liberation Serif" font-weight="bold" fill="#fff" text-anchor="middle" textLength="14">CDC</text></svg>
<div style="left:1946.60px;top:59.37px;font-size:13.5px;line-height:13.5px;color:#444;font-family:'Liberation Sans', sans-serif;white-space:pre;transform:scaleX(0.8485);transform-origin:0 0;">CDC Connects Home — CDC ...</div>
<div style="left:2120px;top:54px;width:200px;height:23px;background:#ffffff;box-sizing:border-box;border:1px solid #c4c4c4;border-bottom:none;border-left:none;"></div>
<svg style="left:2125px;top:58px;" width="17" height="16" viewBox="0 0 17 16"><path d="M3 6a6 6 0 1 0 11 5" fill="none" stroke="#e0301e" stroke-width="1.4"/><path d="M5 6a4.5 4.5 0 1 0 8 4" fill="none" stroke="#e0301e" stroke-width="1.2"/><path d="M2.5 9a7 7 0 0 0 13 3" fill="none" stroke="#e0301e" stroke-width="1"/><text x="8" y="7" font-size="8" font-family="Liberation Serif" fill="#2a4f9a" font-weight="bold">R</text></svg>
<div style="left:2146.00px;top:59.37px;font-size:13.5px;line-height:13.5px;color:#000;font-family:'Liberation Sans', sans-serif;white-space:pre;transform:scaleX(0.8310);transform-origin:0 0;">ROCIS - Concluded PRA Re...</div>
<svg style="left:2306px;top:60px;" width="12" height="12" viewBox="0 0 12 12"><path d="M2 2l8 8M10 2l-8 8" stroke="#777" stroke-width="1.8"/></svg>
<div style="left:2320px;top:54px;width:23px;height:23px;background:#dadada;box-sizing:border-box;border:1px solid #c4c4c4;border-bottom:none;border-left:none;"></div>
<svg style="left:2324px;top:57px;" width="16" height="17" viewBox="0 0 16 17"><path d="M1.5 4.5h9v11h-9z" fill="#fff" stroke="#888" stroke-width="1"/><path d="M11 1v6M8 4h6M8.8 1.8l4.4 4.4M13.2 1.8L8.8 6.2" stroke="#f7a21b" stroke-width="1.3"/></svg>
<div style="left:1920px;top:77px;width:1680px;height:1px;background:#ffffff;"></div>
<div style="left:1920px;top:78px;width:1663px;height:933px;background:#f0f0f0;"></div>
<svg style="left:2480px;top:78px;" width="760" height="72" viewBox="0 0 760 72"><defs><linearGradient id="fl" x1="0" x2="1"><stop offset="0" stop-color="#f0f0f0"/><stop offset="0.35" stop-color="#e4e4e4"/><stop offset="1" stop-color="#e2e2e2"/></linearGradient>
<linearGradient id="fr" x1="0" x2="1"><stop offset="0" stop-color="#e2e2e2"/><stop offset="0.6" stop-color="#e6e6e6"/><stop offset="1" stop-color="#f0f0f0"/></linearGradient></defs>
<path d="M48 0H272V72H64C58 50 52 25 48 0z" fill="url(#fl)"/>
<g fill="#efefef"><path d="M160 8l3.5 8 8.5.8-6.5 5.5 2 8.5-7.5-4.5-7.5 4.5 2-8.5-6.5-5.5 8.5-.8z"/><path d="M212 3l3.5 8 8.5.8-6.5 5.5 2 8.5-7.5-4.5-7.5 4.5 2-8.5-6.5-5.5 8.5-.8z"/><path d="M196 32l3.5 8 8.5.8-6.5 5.5 2 8.5-7.5-4.5-7.5 4.5 2-8.5-6.5-5.5 8.5-.8z"/><path d="M143 40l3.5 8 8.5.8-6.5 5.5 2 8.5-7.5-4.5-7.5 4.5 2-8.5-6.5-5.5 8.5-.8z"/><path d="M244 25l3 7 7.5.7-5.5 5 1.7 7.5-6.7-4-6.7 4 1.7-7.5-5.5-5 7.5-.7z"/><path d="M235 55l3 7 7.5.7-5.5 5 1.7 7.5-6.7-4-6.7 4 1.7-7.5-5.5-5 7.5-.7z"/><path d="M100 5l3 7 7.5.7-5.5 5 1.7 7.5-6.7-4-6.7 4 1.7-7.5-5.5-5 7.5-.7z"/><path d="M110 55l3 7 7.5.7-5.5 5 1.7 7.5-6.7-4-6.7 4 1.7-7.5-5.5-5 7.5-.7z"/></g>
<path d="M272 0H458L462 26C420 30 380 34 349 39 320 37 290 30 272 25z" fill="#e0e0e0"/>
<path d="M272 25C290 30 320 37 349 39 380 34 420 30 462 26L478 72H272z" fill="#f4f4f4"/>
<path d="M458 0H600C640 0 620 10 615 35 590 45 540 60 478 67z" fill="url(#fr)" opacity="0.9"/>
</svg>
<div style="left:1972.00px;top:104.32px;font-size:26px;line-height:26px;color:#454545;font-family:'Liberation Serif', serif;white-space:pre;font-weight:bold;transform:scaleX(0.9906);transform-origin:0 0;">R</div>
<div style="left:2040.00px;top:104.22px;font-size:26px;line-height:26px;color:#454545;font-family:'Liberation Serif', serif;white-space:pre;font-weight:bold;transform:scaleX(1.0818);transform-origin:0 0;">CIS.GOV</div>
<svg style="left:1985px;top:85px;" width="60" height="60" viewBox="0 0 60 60"><path d="M19.20 9.02 L17.47 9.56 L15.82 10.24 L14.27 11.07 L12.82 12.04 L11.50 13.14 L10.31 14.37 L9.25 15.71 L8.33 17.16 L7.56 18.71 L6.95 20.35 L6.49 22.06 L6.19 23.84 L6.06 25.67 L6.09 27.55 L6.28 29.46 L6.64 31.38 L7.16 33.31 L7.83 35.22 L8.65 37.12 L9.62 38.98 L10.74 40.80 L11.98 42.56 L13.35 44.25 L14.83 45.85 L16.42 47.37 L18.10 48.78 L19.87 50.08 L21.71 51.26 L23.61 52.32 L25.56 53.24 L27.54 54.02 L29.55 54.65 L31.56 55.13 L33.56 55.46 L35.55 55.64 L37.50 55.65 L39.41 55.51 L41.27 55.22 L43.05 54.77 L44.75 54.17 L46.36 53.42 L47.87 52.53 L49.26 51.50 L50.53 50.35 L51.67 49.07 L52.66 47.68 L53.52 46.19 L54.22 44.60 L54.77 42.93 L55.16 41.18 L55.38 39.38 L55.45 37.53 L55.35 35.64 L55.08 33.72 L54.66 31.80 L54.07 29.87 L53.34 27.96 L52.45 26.08 L51.42 24.23 L50.25 22.44" fill="none" stroke="#e02a14" stroke-width="2.9"/><path d="M25.18 12.24 L23.66 12.51 L22.20 12.91 L20.81 13.44 L19.51 14.09 L18.29 14.86 L17.18 15.75 L16.17 16.74 L15.27 17.83 L14.50 19.01 L13.85 20.28 L13.32 21.63 L12.94 23.04 L12.69 24.50 L12.57 26.02 L12.60 27.57 L12.76 29.15 L13.06 30.74 L13.49 32.34 L14.06 33.93 L14.75 35.50 L15.57 37.04 L16.51 38.54 L17.56 39.99 L18.71 41.39 L19.96 42.71 L21.29 43.95 L22.70 45.11 L24.19 46.17 L25.73 47.13 L27.31 47.98 L28.94 48.72 L30.59 49.33 L32.25 49.82 L33.92 50.19 L35.58 50.42 L37.22 50.52 L38.82 50.49 L40.39 50.32 L41.90 50.03 L43.35 49.61 L44.72 49.06 L46.01 48.38 L47.21 47.59 L48.31 46.69 L49.30 45.68 L50.17 44.58 L50.92 43.38 L51.55 42.09 L52.05 40.74 L52.42 39.32 L52.64 37.84 L52.73 36.32 L52.69 34.76 L52.50 33.18 L52.18 31.59 L51.72 29.99 L51.13 28.40 L50.41 26.84 L49.57 25.30 L48.62 23.81" fill="none" stroke="#e02a14" stroke-width="2.6"/><path d="M23.97 19.62 L23.23 20.16 L22.56 20.75 L21.95 21.41 L21.40 22.12 L20.93 22.88 L20.52 23.69 L20.19 24.55 L19.94 25.44 L19.76 26.36 L19.66 27.32 L19.64 28.29 L19.70 29.28 L19.84 30.29 L20.05 31.30 L20.34 32.31 L20.71 33.32 L21.15 34.31 L21.66 35.29 L22.24 36.25 L22.88 37.18 L23.58 38.08 L24.34 38.94 L25.15 39.76 L26.01 40.53 L26.92 41.25 L27.86 41.92 L28.83 42.53 L29.83 43.07 L30.86 43.55 L31.90 43.97 L32.95 44.31 L34.01 44.58 L35.06 44.78 L36.11 44.91 L37.15 44.96 L38.16 44.93 L39.16 44.83 L40.12 44.65 L41.05 44.40 L41.93 44.08 L42.77 43.68 L43.57 43.22 L44.30 42.69 L44.98 42.10 L45.60 41.45 L46.15 40.74 L46.63 39.99 L47.04 39.18 L47.38 38.33 L47.64 37.44 L47.82 36.52 L47.93 35.57 L47.96 34.60 L47.91 33.61 L47.78 32.60 L47.57 31.59 L47.28 30.58 L46.92 29.57 L46.49 28.58 L45.99 27.60" fill="none" stroke="#e02a14" stroke-width="2.3"/><path d="M31.3 5.3 L34.3 13.2 L41.8 15.4 L36.6 18.6 L40.7 26.6 L32.8 20.9 L26.5 24.7 L27.6 16.4 L19.8 8.7 L28.8 11.6z" fill="none" stroke="#3e78c2" stroke-width="1.9" stroke-linejoin="round"/></svg>
<div style="left:3313.00px;top:109.30px;font-size:15px;line-height:15px;color:#222;font-family:'Liberation Sans', sans-serif;white-space:pre;">Login: rmacaluso</div>
<div style="left:3470.00px;top:106.20px;font-size:15px;line-height:15px;color:#1c3b7a;font-family:'Liberation Sans', sans-serif;white-space:pre;font-weight:bold;text-decoration:underline;">LOGOUT</div>
<svg style="left:3537px;top:101px;" width="30" height="27" viewBox="0 0 30 27"><path d="M20 6A11 11 0 1 0 20 21" fill="none" stroke="#8ea6cf" stroke-width="4"/><path d="M12 13.5h13M20 8l6.5 5.5L20 19" fill="none" stroke="#8ea6cf" stroke-width="3.5"/></svg>
<div style="left:3583px;top:78px;width:17px;height:972px;background:#f0f0f0;"></div>
<svg style="left:3585px;top:95px;" width="14" height="10" viewBox="0 0 14 10"><path d="M2 8l5-5 5 5" fill="none" stroke="#606060" stroke-width="2"/></svg>
<div style="left:3584px;top:112px;width:15px;height:826px;background:#c8c8c8;"></div>
<svg style="left:3585px;top:983px;" width="14" height="10" viewBox="0 0 14 10"><path d="M2 2l5 5 5-5" fill="none" stroke="#606060" stroke-width="2"/></svg>
<div style="left:1920px;top:150px;width:17.5px;height:860px;background:linear-gradient(#c8c8c8 0%,#e3e3e3 8%,#eaeaea 20%,#f0f0f0 45%,#f9f9f9 75%,#ffffff 100%);"></div>
<div style="left:1937px;top:281px;width:1px;height:729px;background:#ececec;"></div>
<div style="left:3565.5px;top:150px;width:18px;height:860px;background:linear-gradient(#c8c8c8 0%,#e3e3e3 8%,#eaeaea 20%,#f0f0f0 45%,#f9f9f9 75%,#ffffff 100%);"></div>
<div style="left:1937px;top:151px;width:1629px;height:37px;background:linear-gradient(#214c94 0%,#214c94 55%,#183a7c 100%);"></div>
<div style="left:2078px;top:156px;width:369px;height:32px;background:#f5f5f4;border-radius:6px 6px 0 0;"></div>
<div style="left:1983.00px;top:161.30px;font-size:15px;line-height:15px;color:#fff;font-family:'Liberation Sans', sans-serif;white-space:pre;font-weight:bold;transform:scaleX(0.9778);transform-origin:0 0;">HOME</div>
<div style="left:2124.00px;top:161.30px;font-size:15px;line-height:15px;color:#0a8ad6;font-family:'Liberation Sans', sans-serif;white-space:pre;font-weight:bold;transform:scaleX(1.0059);transform-origin:0 0;">PAPERWORK REDUCTION ACT (PRA)</div>
<div style="left:2494.00px;top:161.30px;font-size:15px;line-height:15px;color:#fff;font-family:'Liberation Sans', sans-serif;white-space:pre;font-weight:bold;">ADMINISTRATION</div>
<div style="left:3476.60px;top:161.30px;font-size:15px;line-height:15px;color:#fff;font-family:'Liberation Sans', sans-serif;white-space:pre;font-weight:bold;transform:scaleX(0.9849);transform-origin:0 0;">HELP</div>
<div style="left:1937px;top:188px;width:1629px;height:59.5px;background:linear-gradient(#f4f4f4 0%,#f3f3f3 55%,#d8d8d8 100%);"></div>
<div style="left:1938px;top:188px;width:93px;height:59.5px;background:linear-gradient(#dde2e4 0%,#dde2e4 85%,#d0d4d6 100%);"></div>
<svg style="left:1969px;top:195px;" width="31" height="24" viewBox="0 0 31 24"><path d="M6 1.5h19l5 10v11H1v-11z" fill="#214c94"/><path d="M7.5 4h16l3.5 7.5h-6.5l-1.5 2.5h-7L10.5 11.5H4z" fill="#dde2e4"/></svg>
<svg style="left:2076px;top:191px;" width="28" height="32" viewBox="0 0 28 32"><path d="M2.5 21V2.5h14l6.5 6.5v5" fill="none" stroke="#0a88d3" stroke-width="3"/><path d="M16 2.5v7h7" fill="none" stroke="#0a88d3" stroke-width="2.5"/><path d="M2.5 20v9h10" fill="none" stroke="#0a88d3" stroke-width="3"/><path d="M20 17v12M14 23h12" stroke="#0a88d3" stroke-width="3"/></svg>
<svg style="left:2205px;top:191px;" width="28" height="32" viewBox="0 0 28 32"><path d="M2.5 26V2.5h12" fill="none" stroke="#0a88d3" stroke-width="3"/><path d="M7 29.5V7h13l5.5 6v16.5z" fill="none" stroke="#0a88d3" stroke-width="3"/></svg>
<svg style="left:2349px;top:191px;" width="32" height="32" viewBox="0 0 32 32"><path d="M2.5 22V2.5h10" fill="none" stroke="#0a88d3" stroke-width="2.8"/><path d="M6.5 26V6.5h11" fill="none" stroke="#0a88d3" stroke-width="2.8"/><path d="M11 29.5V11h11l5.5 6v12.5z" fill="none" stroke="#0a88d3" stroke-width="2.8"/></svg>
<svg style="left:2476px;top:191px;" width="33" height="32" viewBox="0 0 33 32"><path d="M5.5 8.3A13.6 13.6 0 1 1 10.8 28" fill="none" stroke="#0a88d3" stroke-width="2.8"/><path d="M1.5 2.5L2 12.5 10.5 9.5z" fill="#0a88d3"/><circle cx="2.8" cy="16.8" r="1.5" fill="#0a88d3"/><circle cx="4.6" cy="21.8" r="1.5" fill="#0a88d3"/><circle cx="7.7" cy="25.6" r="1.5" fill="#0a88d3"/><path d="M16.5 8.5V17.5H24.5" fill="none" stroke="#0a88d3" stroke-width="2.8"/></svg>
<svg style="left:2586px;top:191px;" width="31" height="32" viewBox="0 0 31 32"><circle cx="12" cy="12" r="9" fill="none" stroke="#0a88d3" stroke-width="4"/><path d="M18 19l9 9" stroke="#0a88d3" stroke-width="5"/></svg>
<svg style="left:2693px;top:191px;" width="32" height="32" viewBox="0 0 32 32"><circle cx="15.5" cy="16" r="15" fill="#0a88d3"/><path d="M16.5 -1V14.5H32" fill="none" stroke="#f3f3f3" stroke-width="2.6"/></svg>
<div style="left:1966.00px;top:226.12px;font-size:13.8px;line-height:13.8px;color:#1f4c94;font-family:'Liberation Sans', sans-serif;white-space:pre;font-weight:bold;transform:scaleX(0.8923);transform-origin:0 0;">INBOX</div>
<div style="left:2060.80px;top:226.12px;font-size:13.8px;line-height:13.8px;color:#6e6e6e;font-family:'Liberation Sans', sans-serif;white-space:pre;font-weight:bold;transform:scaleX(0.8844);transform-origin:0 0;">REQUEST</div>
<div style="left:2175.50px;top:226.12px;font-size:13.8px;line-height:13.8px;color:#6e6e6e;font-family:'Liberation Sans', sans-serif;white-space:pre;font-weight:bold;transform:scaleX(0.9102);transform-origin:0 0;">ICR PACKAGE</div>
<div style="left:2318.00px;top:226.12px;font-size:13.8px;line-height:13.8px;color:#6e6e6e;font-family:'Liberation Sans', sans-serif;white-space:pre;font-weight:bold;transform:scaleX(0.9084);transform-origin:0 0;">RCF PACKAGE</div>
<div style="left:2464.65px;top:226.12px;font-size:13.8px;line-height:13.8px;color:#6e6e6e;font-family:'Liberation Sans', sans-serif;white-space:pre;font-weight:bold;transform:scaleX(0.9030);transform-origin:0 0;">HISTORY</div>
<div style="left:2576.30px;top:226.12px;font-size:13.8px;line-height:13.8px;color:#6e6e6e;font-family:'Liberation Sans', sans-serif;white-space:pre;font-weight:bold;transform:scaleX(0.8820);transform-origin:0 0;">SEARCH</div>
<div style="left:2683.15px;top:226.12px;font-size:13.8px;line-height:13.8px;color:#6e6e6e;font-family:'Liberation Sans', sans-serif;white-space:pre;font-weight:bold;transform:scaleX(0.8921);transform-origin:0 0;">REPORT</div>
<div style="left:1938px;top:247.5px;width:1627px;height:762.5px;background:#ffffff;"></div>
<div style="left:1938px;top:247.5px;width:1627px;height:33.5px;background:#fcfcfc;"></div>
<div style="left:1938px;top:247.5px;width:1627px;height:6px;background:linear-gradient(#f8f8f8,#fcfcfc);"></div>
<svg style="left:1945px;top:254px;" width="85" height="20" viewBox="0 0 85 20"><path d="M0 0H78L85 10L78 20H0L7 10z" fill="#dcdcdc"/></svg>
<svg style="left:2035.5px;top:254px;" width="256.1999999999998" height="20" viewBox="0 0 256.1999999999998 20"><path d="M0 0H249.19999999999982L256.1999999999998 10L249.19999999999982 20H0L7 10z" fill="#dcdcdc"/></svg>
<svg style="left:2296.4px;top:254px;" width="83.59999999999991" height="20" viewBox="0 0 83.59999999999991 20"><path d="M0 0H76.59999999999991L83.59999999999991 10L76.59999999999991 20H0L7 10z" fill="#dcdcdc"/></svg>
<svg style="left:2385.8px;top:254px;" width="203.19999999999982" height="20" viewBox="0 0 203.19999999999982 20"><path d="M0 0H196.19999999999982L203.19999999999982 10L196.19999999999982 20H0L7 10z" fill="#dcdcdc"/></svg>
<div style="left:1965.60px;top:256.75px;font-size:14px;line-height:14px;color:#0a8ad6;font-family:'Liberation Sans', sans-serif;white-space:pre;font-weight:bold;transform:scaleX(0.9615);transform-origin:0 0;">Home</div>
<div style="left:2055.70px;top:256.75px;font-size:14px;line-height:14px;color:#0a8ad6;font-family:'Liberation Sans', sans-serif;white-space:pre;font-weight:bold;transform:scaleX(0.9821);transform-origin:0 0;">Paperwork Reduction Act (PRA)</div>
<div style="left:2316.70px;top:256.75px;font-size:14px;line-height:14px;color:#0a8ad6;font-family:'Liberation Sans', sans-serif;white-space:pre;font-weight:bold;transform:scaleX(0.9725);transform-origin:0 0;">Inbox</div>
<div style="left:2405.60px;top:256.75px;font-size:14px;line-height:14px;color:#0a8ad6;font-family:'Liberation Sans', sans-serif;white-space:pre;font-weight:bold;transform:scaleX(0.9805);transform-origin:0 0;">Concluded Request List</div>
<div style="left:2619.40px;top:313.14px;font-size:25px;line-height:25px;color:#0e8ad2;font-family:'Liberation Sans', sans-serif;white-space:pre;transform:scaleX(0.9969);transform-origin:0 0;">Concluded Request List</div>
<div style="left:1957.00px;top:365.99px;font-size:16.2px;line-height:16.2px;color:#1b2f5e;font-family:'Liberation Sans', sans-serif;white-space:pre;">Criteria: Status=(Approved, Disapproved);</div>
<div style="left:3313px;top:364px;width:119px;height:21.5px;background:#cfd4dd;border-radius:4px;box-shadow:1px 2px 3px rgba(0,0,0,0.12);"></div>
<div style="left:3335.70px;top:368.00px;font-size:13px;line-height:13px;color:#4b5b7a;font-family:'Liberation Sans', sans-serif;white-space:pre;font-weight:bold;transform:scaleX(0.9698);transform-origin:0 0;">FILTER LIST</div>
<div style="left:3439px;top:364px;width:105px;height:21.5px;background:#cfd4dd;border-radius:4px;box-shadow:1px 2px 3px rgba(0,0,0,0.12);"></div>
<div style="left:3461.55px;top:368.00px;font-size:13px;line-height:13px;color:#4b5b7a;font-family:'Liberation Sans', sans-serif;white-space:pre;font-weight:bold;transform:scaleX(0.9655);transform-origin:0 0;">VIEW ALL</div>
<div style="left:1957px;top:400px;width:1588px;height:58px;background:#8999b5;box-sizing:border-box;border-top:1px solid #c4c4c4;"></div>
<div style="left:1983.37px;top:406.80px;font-size:13.7px;line-height:13.7px;color:#ffffff;font-family:'Liberation Sans', sans-serif;white-space:pre;font-weight:bold;">OMB</div>
<div style="left:1975.00px;top:422.40px;font-size:13.7px;line-height:13.7px;color:#ffffff;font-family:'Liberation Sans', sans-serif;white-space:pre;font-weight:bold;">Control</div>
<div style="left:1990.22px;top:438.00px;font-size:13.7px;line-height:13.7px;color:#ffffff;font-family:'Liberation Sans', sans-serif;white-space:pre;font-weight:bold;">No</div>
<svg style="left:2038.3000000000002px;top:422px;" width="11" height="14" viewBox="0 0 11 14"><path d="M1.5 5.5L5.5 1.5 9.5 5.5M1.5 8.5L5.5 12.5 9.5 8.5" fill="none" stroke="#b9c3d5" stroke-width="1.6"/></svg>
<div style="left:2079.32px;top:414.60px;font-size:13.7px;line-height:13.7px;color:#ffffff;font-family:'Liberation Sans', sans-serif;white-space:pre;font-weight:bold;">ICR Ref. No /</div>
<div style="left:2097.97px;top:430.20px;font-size:13.7px;line-height:13.7px;color:#ffffff;font-family:'Liberation Sans', sans-serif;white-space:pre;font-weight:bold;">RCF ID</div>
<svg style="left:2185.3px;top:422px;" width="11" height="14" viewBox="0 0 11 14"><path d="M1.5 5.5L5.5 1.5 9.5 5.5M1.5 8.5L5.5 12.5 9.5 8.5" fill="none" stroke="#b9c3d5" stroke-width="1.6"/></svg>
<div style="left:2219.72px;top:422.40px;font-size:13.7px;line-height:13.7px;color:#ffffff;font-family:'Liberation Sans', sans-serif;white-space:pre;font-weight:bold;">Agency/Sub</div>
<svg style="left:2315.3px;top:422px;" width="11" height="14" viewBox="0 0 11 14"><path d="M1.5 5.5L5.5 1.5 9.5 5.5M1.5 8.5L5.5 12.5 9.5 8.5" fill="none" stroke="#b9c3d5" stroke-width="1.6"/></svg>
<div style="left:2368.31px;top:414.60px;font-size:13.7px;line-height:13.7px;color:#ffffff;font-family:'Liberation Sans', sans-serif;white-space:pre;font-weight:bold;">Agency ICR</div>
<div style="left:2350.80px;top:430.20px;font-size:13.7px;line-height:13.7px;color:#ffffff;font-family:'Liberation Sans', sans-serif;white-space:pre;font-weight:bold;">Tracking Number</div>
<svg style="left:2480.2px;top:422px;" width="11" height="14" viewBox="0 0 11 14"><path d="M1.5 5.5L5.5 1.5 9.5 5.5M1.5 8.5L5.5 12.5 9.5 8.5" fill="none" stroke="#b9c3d5" stroke-width="1.6"/></svg>
<div style="left:2728.34px;top:422.40px;font-size:13.7px;line-height:13.7px;color:#ffffff;font-family:'Liberation Sans', sans-serif;white-space:pre;font-weight:bold;">Title</div>
<svg style="left:2986.4px;top:422px;" width="11" height="14" viewBox="0 0 11 14"><path d="M1.5 5.5L5.5 1.5 9.5 5.5M1.5 8.5L5.5 12.5 9.5 8.5" fill="none" stroke="#b9c3d5" stroke-width="1.6"/></svg>
<div style="left:3023.56px;top:406.80px;font-size:13.7px;line-height:13.7px;color:#ffffff;font-family:'Liberation Sans', sans-serif;white-space:pre;font-weight:bold;">Current</div>
<div style="left:3014.81px;top:422.40px;font-size:13.7px;line-height:13.7px;color:#ffffff;font-family:'Liberation Sans', sans-serif;white-space:pre;font-weight:bold;">Expiration</div>
<div style="left:3033.45px;top:438.00px;font-size:13.7px;line-height:13.7px;color:#ffffff;font-family:'Liberation Sans', sans-serif;white-space:pre;font-weight:bold;">Date</div>
<svg style="left:3092.2px;top:422px;" width="11" height="14" viewBox="0 0 11 14"><path d="M1.5 5.5L5.5 1.5 9.5 5.5M1.5 8.5L5.5 12.5 9.5 8.5" fill="none" stroke="#b9c3d5" stroke-width="1.6"/></svg>
<div style="left:3138.90px;top:422.40px;font-size:13.7px;line-height:13.7px;color:#ffffff;font-family:'Liberation Sans', sans-serif;white-space:pre;font-weight:bold;">Request Type</div>
<svg style="left:3256.4px;top:422px;" width="11" height="14" viewBox="0 0 11 14"><path d="M1.5 5.5L5.5 1.5 9.5 5.5M1.5 8.5L5.5 12.5 9.5 8.5" fill="none" stroke="#b9c3d5" stroke-width="1.6"/></svg>
<div style="left:3287.60px;top:422.40px;font-size:13.7px;line-height:13.7px;color:#ffffff;font-family:'Liberation Sans', sans-serif;white-space:pre;font-weight:bold;">Conclusion Action</div>
<svg style="left:3421.3px;top:422px;" width="11" height="14" viewBox="0 0 11 14"><path d="M1.5 5.5L5.5 1.5 9.5 5.5M1.5 8.5L5.5 12.5 9.5 8.5" fill="none" stroke="#b9c3d5" stroke-width="1.6"/></svg>
<div style="left:3449.36px;top:414.60px;font-size:13.7px;line-height:13.7px;color:#ffffff;font-family:'Liberation Sans', sans-serif;white-space:pre;font-weight:bold;">Concluded</div>
<div style="left:3469.90px;top:430.20px;font-size:13.7px;line-height:13.7px;color:#ffffff;font-family:'Liberation Sans', sans-serif;white-space:pre;font-weight:bold;">Date</div>
<svg style="left:3530.2px;top:422px;" width="11" height="14" viewBox="0 0 11 14"><path d="M1.5 5.5L5.5 1.5 9.5 5.5M1.5 8.5L5.5 12.5 9.5 8.5" fill="none" stroke="#b9c3d5" stroke-width="1.6"/></svg>
<div style="left:2052.3px;top:401px;width:2px;height:57px;background:#c8c8c8;"></div>
<div style="left:2199.3px;top:401px;width:2px;height:57px;background:#c8c8c8;"></div>
<div style="left:2329.3px;top:401px;width:2px;height:57px;background:#c8c8c8;"></div>
<div style="left:2494.2px;top:401px;width:2px;height:57px;background:#c8c8c8;"></div>
<div style="left:3000.4px;top:401px;width:2px;height:57px;background:#c8c8c8;"></div>
<div style="left:3106.2px;top:401px;width:2px;height:57px;background:#c8c8c8;"></div>
<div style="left:3270.4px;top:401px;width:2px;height:57px;background:#c8c8c8;"></div>
<div style="left:3435.3px;top:401px;width:2px;height:57px;background:#c8c8c8;"></div>
<div style="left:3544.2px;top:400px;width:1.5px;height:58px;background:#c8c8c8;"></div>
<div style="left:1957.4px;top:456.5px;width:1588px;height:1.5px;background:#cfcfcf;"></div>
<div style="left:1957.4px;top:458px;width:1587.8px;height:48px;background:#e2e3fc;"></div>
<div style="left:1963.40px;top:465.32px;font-size:13.8px;line-height:13.8px;color:#1c4ea0;font-family:'Liberation Sans', sans-serif;white-space:pre;text-decoration:underline;">0923-0059</div>
<div style="left:2059.30px;top:465.32px;font-size:13.8px;line-height:13.8px;color:#1c4ea0;font-family:'Liberation Sans', sans-serif;white-space:pre;text-decoration:underline;">202001-0923-004</div>
<div style="left:2206.30px;top:465.32px;font-size:13.8px;line-height:13.8px;color:#4e4e56;font-family:'Liberation Sans', sans-serif;white-space:pre;">HHS/TSDR</div>
<div style="left:2336.30px;top:465.32px;font-size:13.8px;line-height:13.8px;color:#4e4e56;font-family:'Liberation Sans', sans-serif;white-space:pre;">0923-0059-20FT</div>
<div style="left:2501.20px;top:465.32px;font-size:13.8px;line-height:13.8px;color:#4e4e56;font-family:'Liberation Sans', sans-serif;white-space:pre;">Per- or Polyfluoroalkyl Substances Exposure Assessments (PFAS EAs)</div>
<div style="left:3007.40px;top:465.32px;font-size:13.8px;line-height:13.8px;color:#4e4e56;font-family:'Liberation Sans', sans-serif;white-space:pre;">06/30/2022</div>
<div style="left:3113.20px;top:465.32px;font-size:13.8px;line-height:13.8px;color:#1c4ea0;font-family:'Liberation Sans', sans-serif;white-space:pre;text-decoration:underline;">ICR Chg</div>
<div style="left:3277.40px;top:465.32px;font-size:13.8px;line-height:13.8px;color:#1c4ea0;font-family:'Liberation Sans', sans-serif;white-space:pre;text-decoration:underline;">Approved without</div>
<div style="left:3277.40px;top:484.12px;font-size:13.8px;line-height:13.8px;color:#1c4ea0;font-family:'Liberation Sans', sans-serif;white-space:pre;text-decoration:underline;">change</div>
<div style="left:3442.30px;top:465.32px;font-size:13.8px;line-height:13.8px;color:#4e4e56;font-family:'Liberation Sans', sans-serif;white-space:pre;">01/31/2020</div>
<div style="left:1957.4px;top:506px;width:1587.8px;height:32px;background:#ffffff;"></div>
<div style="left:1963.40px;top:513.32px;font-size:13.8px;line-height:13.8px;color:#1c4ea0;font-family:'Liberation Sans', sans-serif;white-space:pre;text-decoration:underline;">0920-0572</div>
<div style="left:2059.30px;top:513.32px;font-size:13.8px;line-height:13.8px;color:#1c4ea0;font-family:'Liberation Sans', sans-serif;white-space:pre;text-decoration:underline;">201806-0920-001</div>
<div style="left:2206.30px;top:513.32px;font-size:13.8px;line-height:13.8px;color:#4e4e56;font-family:'Liberation Sans', sans-serif;white-space:pre;">HHS/CDC</div>
<div style="left:2336.30px;top:513.32px;font-size:13.8px;line-height:13.8px;color:#4e4e56;font-family:'Liberation Sans', sans-serif;white-space:pre;">0920-0572-19BSQ</div>
<div style="left:2501.20px;top:513.32px;font-size:13.8px;line-height:13.8px;color:#4e4e56;font-family:'Liberation Sans', sans-serif;white-space:pre;">National Firefighter Registry</div>
<div style="left:3113.20px;top:513.32px;font-size:13.8px;line-height:13.8px;color:#1c4ea0;font-family:'Liberation Sans', sans-serif;white-space:pre;text-decoration:underline;">Gen IC</div>
<div style="left:3277.40px;top:513.32px;font-size:13.8px;line-height:13.8px;color:#1c4ea0;font-family:'Liberation Sans', sans-serif;white-space:pre;text-decoration:underline;">Withdrawn</div>
<div style="left:3442.30px;top:513.32px;font-size:13.8px;line-height:13.8px;color:#4e4e56;font-family:'Liberation Sans', sans-serif;white-space:pre;">01/31/2020</div>
<div style="left:1957.4px;top:538px;width:1587.8px;height:47px;background:#e2e3fc;"></div>
<div style="left:1963.40px;top:545.32px;font-size:13.8px;line-height:13.8px;color:#1c4ea0;font-family:'Liberation Sans', sans-serif;white-space:pre;text-decoration:underline;">0920-0572</div>
<div style="left:2059.30px;top:545.32px;font-size:13.8px;line-height:13.8px;color:#1c4ea0;font-family:'Liberation Sans', sans-serif;white-space:pre;text-decoration:underline;">201806-0920-001</div>
<div style="left:2206.30px;top:545.32px;font-size:13.8px;line-height:13.8px;color:#4e4e56;font-family:'Liberation Sans', sans-serif;white-space:pre;">HHS/CDC</div>
<div style="left:2336.30px;top:545.32px;font-size:13.8px;line-height:13.8px;color:#4e4e56;font-family:'Liberation Sans', sans-serif;white-space:pre;">0920-0572-20BX</div>
<div style="left:2501.20px;top:545.32px;font-size:13.8px;line-height:13.8px;color:#4e4e56;font-family:'Liberation Sans', sans-serif;white-space:pre;">Developing Effective Messages about Excessive Alcohol Consumption:</div>
<div style="left:2501.20px;top:564.12px;font-size:13.8px;line-height:13.8px;color:#4e4e56;font-family:'Liberation Sans', sans-serif;white-space:pre;">Enhanced Message Development and testing</div>
<div style="left:3007.40px;top:545.32px;font-size:13.8px;line-height:13.8px;color:#4e4e56;font-family:'Liberation Sans', sans-serif;white-space:pre;">08/31/2021</div>
<div style="left:3113.20px;top:545.32px;font-size:13.8px;line-height:13.8px;color:#1c4ea0;font-family:'Liberation Sans', sans-serif;white-space:pre;text-decoration:underline;">Gen IC</div>
<div style="left:3277.40px;top:545.32px;font-size:13.8px;line-height:13.8px;color:#1c4ea0;font-family:'Liberation Sans', sans-serif;white-space:pre;text-decoration:underline;">Returned - Improperly</div>
<div style="left:3277.40px;top:564.12px;font-size:13.8px;line-height:13.8px;color:#1c4ea0;font-family:'Liberation Sans', sans-serif;white-space:pre;text-decoration:underline;">Submitted</div>
<div style="left:3442.30px;top:545.32px;font-size:13.8px;line-height:13.8px;color:#4e4e56;font-family:'Liberation Sans', sans-serif;white-space:pre;">01/31/2020</div>
<div style="left:1957.4px;top:585px;width:1587.8px;height:48px;background:#ffffff;"></div>
<div style="left:1963.40px;top:592.32px;font-size:13.8px;line-height:13.8px;color:#1c4ea0;font-family:'Liberation Sans', sans-serif;white-space:pre;text-decoration:underline;">0920-0953</div>
<div style="left:2059.30px;top:592.32px;font-size:13.8px;line-height:13.8px;color:#1c4ea0;font-family:'Liberation Sans', sans-serif;white-space:pre;text-decoration:underline;">201802-0920-007</div>
<div style="left:2206.30px;top:592.32px;font-size:13.8px;line-height:13.8px;color:#4e4e56;font-family:'Liberation Sans', sans-serif;white-space:pre;">HHS/CDC</div>
<div style="left:2336.30px;top:592.32px;font-size:13.8px;line-height:13.8px;color:#4e4e56;font-family:'Liberation Sans', sans-serif;white-space:pre;">0920-0953-20GI</div>
<div style="left:2501.20px;top:592.32px;font-size:13.8px;line-height:13.8px;color:#4e4e56;font-family:'Liberation Sans', sans-serif;white-space:pre;">Telehealth Satisfaction at MSSM</div>
<div style="left:3007.40px;top:592.32px;font-size:13.8px;line-height:13.8px;color:#4e4e56;font-family:'Liberation Sans', sans-serif;white-space:pre;">08/31/2021</div>
<div style="left:3113.20px;top:592.32px;font-size:13.8px;line-height:13.8px;color:#1c4ea0;font-family:'Liberation Sans', sans-serif;white-space:pre;text-decoration:underline;">Gen IC</div>
<div style="left:3277.40px;top:592.32px;font-size:13.8px;line-height:13.8px;color:#1c4ea0;font-family:'Liberation Sans', sans-serif;white-space:pre;text-decoration:underline;">Approved without</div>
<div style="left:3277.40px;top:611.12px;font-size:13.8px;line-height:13.8px;color:#1c4ea0;font-family:'Liberation Sans', sans-serif;white-space:pre;text-decoration:underline;">change</div>
<div style="left:3442.30px;top:592.32px;font-size:13.8px;line-height:13.8px;color:#4e4e56;font-family:'Liberation Sans', sans-serif;white-space:pre;">01/30/2020</div>
<div style="left:1957.4px;top:633px;width:1587.8px;height:47px;background:#e2e3fc;"></div>
<div style="left:1963.40px;top:640.32px;font-size:13.8px;line-height:13.8px;color:#1c4ea0;font-family:'Liberation Sans', sans-serif;white-space:pre;text-decoration:underline;">0923-0059</div>
<div style="left:2059.30px;top:640.32px;font-size:13.8px;line-height:13.8px;color:#1c4ea0;font-family:'Liberation Sans', sans-serif;white-space:pre;text-decoration:underline;">202001-0923-003</div>
<div style="left:2206.30px;top:640.32px;font-size:13.8px;line-height:13.8px;color:#4e4e56;font-family:'Liberation Sans', sans-serif;white-space:pre;">HHS/TSDR</div>
<div style="left:2336.30px;top:640.32px;font-size:13.8px;line-height:13.8px;color:#4e4e56;font-family:'Liberation Sans', sans-serif;white-space:pre;">0923-0059-20FT</div>
<div style="left:2501.20px;top:640.32px;font-size:13.8px;line-height:13.8px;color:#4e4e56;font-family:'Liberation Sans', sans-serif;white-space:pre;">Per- or Polyfluoroalkyl Substances Exposure Assessments (PFAS EAs)</div>
<div style="left:3007.40px;top:640.32px;font-size:13.8px;line-height:13.8px;color:#4e4e56;font-family:'Liberation Sans', sans-serif;white-space:pre;">06/30/2022</div>
<div style="left:3113.20px;top:640.32px;font-size:13.8px;line-height:13.8px;color:#1c4ea0;font-family:'Liberation Sans', sans-serif;white-space:pre;text-decoration:underline;">ICR Chg</div>
<div style="left:3277.40px;top:640.32px;font-size:13.8px;line-height:13.8px;color:#1c4ea0;font-family:'Liberation Sans', sans-serif;white-space:pre;text-decoration:underline;">Improperly submitted</div>
<div style="left:3277.40px;top:659.12px;font-size:13.8px;line-height:13.8px;color:#1c4ea0;font-family:'Liberation Sans', sans-serif;white-space:pre;text-decoration:underline;">and continue</div>
<div style="left:3442.30px;top:640.32px;font-size:13.8px;line-height:13.8px;color:#4e4e56;font-family:'Liberation Sans', sans-serif;white-space:pre;">01/30/2020</div>
<div style="left:1957.4px;top:680px;width:1587.8px;height:48px;background:#ffffff;"></div>
<div style="left:1963.40px;top:687.32px;font-size:13.8px;line-height:13.8px;color:#1c4ea0;font-family:'Liberation Sans', sans-serif;white-space:pre;text-decoration:underline;">0920-1264</div>
<div style="left:2059.30px;top:687.32px;font-size:13.8px;line-height:13.8px;color:#1c4ea0;font-family:'Liberation Sans', sans-serif;white-space:pre;text-decoration:underline;">202001-0920-016</div>
<div style="left:2206.30px;top:687.32px;font-size:13.8px;line-height:13.8px;color:#4e4e56;font-family:'Liberation Sans', sans-serif;white-space:pre;">HHS/CDC</div>
<div style="left:2336.30px;top:687.32px;font-size:13.8px;line-height:13.8px;color:#4e4e56;font-family:'Liberation Sans', sans-serif;white-space:pre;">0920-20GT</div>
<div style="left:2501.20px;top:687.32px;font-size:13.8px;line-height:13.8px;color:#4e4e56;font-family:'Liberation Sans', sans-serif;white-space:pre;">Women’s Health Needs Study: The Health of US-Resident Women from</div>
<div style="left:2501.20px;top:706.12px;font-size:13.8px;line-height:13.8px;color:#4e4e56;font-family:'Liberation Sans', sans-serif;white-space:pre;">Countries with Prevalent Female Genital Mutilation/Cutting (FGM/C)</div>
<div style="left:3007.40px;top:687.32px;font-size:13.8px;line-height:13.8px;color:#4e4e56;font-family:'Liberation Sans', sans-serif;white-space:pre;">05/31/2022</div>
<div style="left:3113.20px;top:687.32px;font-size:13.8px;line-height:13.8px;color:#1c4ea0;font-family:'Liberation Sans', sans-serif;white-space:pre;text-decoration:underline;">ICR Chg</div>
<div style="left:3277.40px;top:687.32px;font-size:13.8px;line-height:13.8px;color:#1c4ea0;font-family:'Liberation Sans', sans-serif;white-space:pre;text-decoration:underline;">Approved without</div>
<div style="left:3277.40px;top:706.12px;font-size:13.8px;line-height:13.8px;color:#1c4ea0;font-family:'Liberation Sans', sans-serif;white-space:pre;text-decoration:underline;">change</div>
<div style="left:3442.30px;top:687.32px;font-size:13.8px;line-height:13.8px;color:#4e4e56;font-family:'Liberation Sans', sans-serif;white-space:pre;">01/29/2020</div>
<div style="left:1957.4px;top:728px;width:1587.8px;height:47px;background:#e2e3fc;"></div>
<div style="left:1963.40px;top:735.32px;font-size:13.8px;line-height:13.8px;color:#1c4ea0;font-family:'Liberation Sans', sans-serif;white-space:pre;text-decoration:underline;">0920-1283</div>
<div style="left:2059.30px;top:735.32px;font-size:13.8px;line-height:13.8px;color:#1c4ea0;font-family:'Liberation Sans', sans-serif;white-space:pre;text-decoration:underline;">201910-0920-003</div>
<div style="left:2206.30px;top:735.32px;font-size:13.8px;line-height:13.8px;color:#4e4e56;font-family:'Liberation Sans', sans-serif;white-space:pre;">HHS/CDC</div>
<div style="left:2336.30px;top:735.32px;font-size:13.8px;line-height:13.8px;color:#4e4e56;font-family:'Liberation Sans', sans-serif;white-space:pre;">0920-19BJD</div>
<div style="left:2501.20px;top:735.32px;font-size:13.8px;line-height:13.8px;color:#4e4e56;font-family:'Liberation Sans', sans-serif;white-space:pre;">Monitoring and Reporting for the Overdose Data to Action Cooperative</div>
<div style="left:2501.20px;top:754.12px;font-size:13.8px;line-height:13.8px;color:#4e4e56;font-family:'Liberation Sans', sans-serif;white-space:pre;">Agreement</div>
<div style="left:3007.40px;top:735.32px;font-size:13.8px;line-height:13.8px;color:#4e4e56;font-family:'Liberation Sans', sans-serif;white-space:pre;">01/31/2023</div>
<div style="left:3113.20px;top:735.32px;font-size:13.8px;line-height:13.8px;color:#1c4ea0;font-family:'Liberation Sans', sans-serif;white-space:pre;text-decoration:underline;">ICR New</div>
<div style="left:3277.40px;top:735.32px;font-size:13.8px;line-height:13.8px;color:#1c4ea0;font-family:'Liberation Sans', sans-serif;white-space:pre;text-decoration:underline;">Approved without</div>
<div style="left:3277.40px;top:754.12px;font-size:13.8px;line-height:13.8px;color:#1c4ea0;font-family:'Liberation Sans', sans-serif;white-space:pre;text-decoration:underline;">change</div>
<div style="left:3442.30px;top:735.32px;font-size:13.8px;line-height:13.8px;color:#4e4e56;font-family:'Liberation Sans', sans-serif;white-space:pre;">01/29/2020</div>
<div style="left:1957.4px;top:775px;width:1587.8px;height:48px;background:#ffffff;"></div>
<div style="left:1963.40px;top:782.32px;font-size:13.8px;line-height:13.8px;color:#1c4ea0;font-family:'Liberation Sans', sans-serif;white-space:pre;text-decoration:underline;">0920-1050</div>
<div style="left:2059.30px;top:782.32px;font-size:13.8px;line-height:13.8px;color:#1c4ea0;font-family:'Liberation Sans', sans-serif;white-space:pre;text-decoration:underline;">201902-0920-022</div>
<div style="left:2206.30px;top:782.32px;font-size:13.8px;line-height:13.8px;color:#4e4e56;font-family:'Liberation Sans', sans-serif;white-space:pre;">HHS/CDC</div>
<div style="left:2336.30px;top:782.32px;font-size:13.8px;line-height:13.8px;color:#4e4e56;font-family:'Liberation Sans', sans-serif;white-space:pre;">0920-20GY</div>
<div style="left:2501.20px;top:782.32px;font-size:13.8px;line-height:13.8px;color:#4e4e56;font-family:'Liberation Sans', sans-serif;white-space:pre;">WISQARS Data Visualization Usability Testing Customer Feedback</div>
<div style="left:3007.40px;top:782.32px;font-size:13.8px;line-height:13.8px;color:#4e4e56;font-family:'Liberation Sans', sans-serif;white-space:pre;">05/31/2022</div>
<div style="left:3113.20px;top:782.32px;font-size:13.8px;line-height:13.8px;color:#1c4ea0;font-family:'Liberation Sans', sans-serif;white-space:pre;text-decoration:underline;">Gen IC</div>
<div style="left:3277.40px;top:782.32px;font-size:13.8px;line-height:13.8px;color:#1c4ea0;font-family:'Liberation Sans', sans-serif;white-space:pre;text-decoration:underline;">Approved without</div>
<div style="left:3277.40px;top:801.12px;font-size:13.8px;line-height:13.8px;color:#1c4ea0;font-family:'Liberation Sans', sans-serif;white-space:pre;text-decoration:underline;">change</div>
<div style="left:3442.30px;top:782.32px;font-size:13.8px;line-height:13.8px;color:#4e4e56;font-family:'Liberation Sans', sans-serif;white-space:pre;">01/29/2020</div>
<div style="left:1957.4px;top:823px;width:1587.8px;height:47px;background:#e2e3fc;"></div>
<div style="left:1963.40px;top:830.32px;font-size:13.8px;line-height:13.8px;color:#1c4ea0;font-family:'Liberation Sans', sans-serif;white-space:pre;text-decoration:underline;">0920-1156</div>
<div style="left:2059.30px;top:830.32px;font-size:13.8px;line-height:13.8px;color:#1c4ea0;font-family:'Liberation Sans', sans-serif;white-space:pre;text-decoration:underline;">201703-0920-010</div>
<div style="left:2206.30px;top:830.32px;font-size:13.8px;line-height:13.8px;color:#4e4e56;font-family:'Liberation Sans', sans-serif;white-space:pre;">HHS/CDC</div>
<div style="left:2336.30px;top:830.32px;font-size:13.8px;line-height:13.8px;color:#4e4e56;font-family:'Liberation Sans', sans-serif;white-space:pre;">0920-16MM</div>
<div style="left:2501.20px;top:830.32px;font-size:13.8px;line-height:13.8px;color:#4e4e56;font-family:'Liberation Sans', sans-serif;white-space:pre;">Performance Monitoring of “Working with Publicly Funded Health Centers to</div>
<div style="left:2501.20px;top:849.12px;font-size:13.8px;line-height:13.8px;color:#4e4e56;font-family:'Liberation Sans', sans-serif;white-space:pre;">Reduce Teen Pregnancy among Youth from Vulnerable Populations</div>
<div style="left:3007.40px;top:830.32px;font-size:13.8px;line-height:13.8px;color:#4e4e56;font-family:'Liberation Sans', sans-serif;white-space:pre;">01/31/2020</div>
<div style="left:3113.20px;top:830.32px;font-size:13.8px;line-height:13.8px;color:#1c4ea0;font-family:'Liberation Sans', sans-serif;white-space:pre;text-decoration:underline;">D</div>
<div style="left:3277.40px;top:830.32px;font-size:13.8px;line-height:13.8px;color:#1c4ea0;font-family:'Liberation Sans', sans-serif;white-space:pre;text-decoration:underline;">Returned to Agency for</div>
<div style="left:3277.40px;top:849.12px;font-size:13.8px;line-height:13.8px;color:#1c4ea0;font-family:'Liberation Sans', sans-serif;white-space:pre;text-decoration:underline;">Reconsideration</div>
<div style="left:3442.30px;top:830.32px;font-size:13.8px;line-height:13.8px;color:#4e4e56;font-family:'Liberation Sans', sans-serif;white-space:pre;">01/27/2020</div>
<div style="left:1957.4px;top:870px;width:1587.8px;height:48.5px;background:#ffffff;"></div>
<div style="left:1963.40px;top:877.32px;font-size:13.8px;line-height:13.8px;color:#1c4ea0;font-family:'Liberation Sans', sans-serif;white-space:pre;text-decoration:underline;">0920-1166</div>
<div style="left:2059.30px;top:877.32px;font-size:13.8px;line-height:13.8px;color:#1c4ea0;font-family:'Liberation Sans', sans-serif;white-space:pre;text-decoration:underline;">202001-0920-012</div>
<div style="left:2206.30px;top:877.32px;font-size:13.8px;line-height:13.8px;color:#4e4e56;font-family:'Liberation Sans', sans-serif;white-space:pre;">HHS/CDC</div>
<div style="left:2336.30px;top:877.32px;font-size:13.8px;line-height:13.8px;color:#4e4e56;font-family:'Liberation Sans', sans-serif;white-space:pre;">0920-1166-20GH</div>
<div style="left:2501.20px;top:877.32px;font-size:13.8px;line-height:13.8px;color:#4e4e56;font-family:'Liberation Sans', sans-serif;white-space:pre;">Poison Center Collaborations for Public Health Emergencies</div>
<div style="left:3007.40px;top:877.32px;font-size:13.8px;line-height:13.8px;color:#4e4e56;font-family:'Liberation Sans', sans-serif;white-space:pre;">02/29/2020</div>
<div style="left:3113.20px;top:877.32px;font-size:13.8px;line-height:13.8px;color:#1c4ea0;font-family:'Liberation Sans', sans-serif;white-space:pre;text-decoration:underline;">ICR Chg</div>
<div style="left:3277.40px;top:877.32px;font-size:13.8px;line-height:13.8px;color:#1c4ea0;font-family:'Liberation Sans', sans-serif;white-space:pre;text-decoration:underline;">Approved without</div>
<div style="left:3277.40px;top:896.12px;font-size:13.8px;line-height:13.8px;color:#1c4ea0;font-family:'Liberation Sans', sans-serif;white-space:pre;text-decoration:underline;">change</div>
<div style="left:3442.30px;top:877.32px;font-size:13.8px;line-height:13.8px;color:#4e4e56;font-family:'Liberation Sans', sans-serif;white-space:pre;">01/27/2020</div>
<div style="left:1956.9px;top:458px;width:1px;height:460.5px;background:#c6dcee;"></div>
<div style="left:2052.8px;top:458px;width:1px;height:460.5px;background:#c6dcee;"></div>
<div style="left:2199.8px;top:458px;width:1px;height:460.5px;background:#c6dcee;"></div>
<div style="left:2329.8px;top:458px;width:1px;height:460.5px;background:#c6dcee;"></div>
<div style="left:2494.7px;top:458px;width:1px;height:460.5px;background:#c6dcee;"></div>
<div style="left:3000.9px;top:458px;width:1px;height:460.5px;background:#c6dcee;"></div>
<div style="left:3106.7px;top:458px;width:1px;height:460.5px;background:#c6dcee;"></div>
<div style="left:3270.9px;top:458px;width:1px;height:460.5px;background:#c6dcee;"></div>
<div style="left:3435.8px;top:458px;width:1px;height:460.5px;background:#c6dcee;"></div>
<div style="left:3544.7px;top:458px;width:1px;height:460.5px;background:#c6dcee;"></div>
<div style="left:1957px;top:918px;width:1589px;height:1px;background:#b8d0e6;"></div>
<div style="left:1957.4px;top:919px;width:1588.2px;height:49px;background:linear-gradient(#e9e9e9,#cdcdcd);border-radius:0 0 5px 5px;box-shadow:0 1px 1px rgba(0,0,0,0.15);"></div>
<div style="left:1964.70px;top:932.73px;font-size:16.5px;line-height:16.5px;color:#333;font-family:'Liberation Sans', sans-serif;white-space:pre;transform:scaleX(1.0032);transform-origin:0 0;">Showing 1 to 10 of 37 entries</div>
<div style="left:3041.5px;top:926.6px;width:66.30000000000018px;height:33px;background:linear-gradient(rgba(255,255,255,0.25),rgba(255,255,255,0.1));box-sizing:border-box;border:1px solid rgba(200,200,200,0.5);"></div>
<div style="left:3058.61px;top:935.03px;font-size:16.5px;line-height:16.5px;color:#aaaaaa;font-family:'Liberation Sans', sans-serif;white-space:pre;">First</div>
<div style="left:3107.8px;top:926.6px;width:98.89999999999964px;height:33px;background:linear-gradient(rgba(255,255,255,0.25),rgba(255,255,255,0.1));box-sizing:border-box;border:1px solid rgba(200,200,200,0.5);"></div>
<div style="left:3125.15px;top:935.03px;font-size:16.5px;line-height:16.5px;color:#aaaaaa;font-family:'Liberation Sans', sans-serif;white-space:pre;">Previous</div>
<div style="left:3206.7px;top:926.6px;width:44.0px;height:33px;background:linear-gradient(rgba(255,255,255,0.25),rgba(255,255,255,0.1));box-sizing:border-box;border:1px solid rgba(200,200,200,0.5);"></div>
<div style="left:3224.11px;top:935.03px;font-size:16.5px;line-height:16.5px;color:#aaaaaa;font-family:'Liberation Sans', sans-serif;white-space:pre;">1</div>
<div style="left:3250.7px;top:926.6px;width:42.70000000000027px;height:33px;background:linear-gradient(#f0f0f0,#e6e6e6);box-sizing:border-box;border:1px solid rgba(200,200,200,0.5);"></div>
<div style="left:3267.46px;top:935.03px;font-size:16.5px;line-height:16.5px;color:#333333;font-family:'Liberation Sans', sans-serif;white-space:pre;">2</div>
<div style="left:3293.4px;top:926.6px;width:43.0px;height:33px;background:linear-gradient(#f0f0f0,#e6e6e6);box-sizing:border-box;border:1px solid rgba(200,200,200,0.5);"></div>
<div style="left:3310.31px;top:935.03px;font-size:16.5px;line-height:16.5px;color:#333333;font-family:'Liberation Sans', sans-serif;white-space:pre;">3</div>
<div style="left:3336.4px;top:926.6px;width:44.0px;height:33px;background:linear-gradient(#f0f0f0,#e6e6e6);box-sizing:border-box;border:1px solid rgba(200,200,200,0.5);"></div>
<div style="left:3353.81px;top:935.03px;font-size:16.5px;line-height:16.5px;color:#333333;font-family:'Liberation Sans', sans-serif;white-space:pre;">4</div>
<div style="left:3380.4px;top:926.6px;width:67.79999999999973px;height:33px;background:linear-gradient(#f0f0f0,#e6e6e6);box-sizing:border-box;border:1px solid rgba(200,200,200,0.5);"></div>
<div style="left:3397.34px;top:935.03px;font-size:16.5px;line-height:16.5px;color:#333333;font-family:'Liberation Sans', sans-serif;white-space:pre;">Next</div>
<div style="left:3448.2px;top:926.6px;width:67.10000000000036px;height:33px;background:linear-gradient(#f0f0f0,#e6e6e6);box-sizing:border-box;border:1px solid rgba(200,200,200,0.5);"></div>
<div style="left:3466.16px;top:935.03px;font-size:16.5px;line-height:16.5px;color:#333333;font-family:'Liberation Sans', sans-serif;white-space:pre;">Last</div>
<div style="left:1957.00px;top:978.00px;font-size:15px;line-height:15px;color:#111;font-family:'Liberation Sans', sans-serif;white-space:pre;">List shows requests for ICRs that were concluded in the last 30 days.</div>
<div style="left:0px;top:1160px;width:1920px;height:40px;background:#0d0f17;"></div>
<svg style="left:15px;top:1172px;" width="18" height="17" viewBox="0 0 18 17"><path d="M0 2.3L7.3 1.3V8H0zM8.3 1.1L17.5 0V8H8.3zM0 9h7.3v6.7L0 14.7zM8.3 9h9.2V17l-9.2-1.2z" fill="#fff"/></svg>
<svg style="left:63px;top:1172px;" width="18" height="18" viewBox="0 0 18 18"><circle cx="10.5" cy="7" r="6" fill="none" stroke="#fff" stroke-width="1.4"/><path d="M6.2 11.3L1 16.5" stroke="#fff" stroke-width="1.6"/></svg>
<svg style="left:111px;top:1172px;" width="18" height="17" viewBox="0 0 18 17"><path d="M1 1.5h11M1 15.5h11M2.5 4v9M10.5 4v9M2.5 4h8M2.5 13h8" fill="none" stroke="#fff" stroke-width="1.3"/><path d="M15 1v3M15 6.5v4M15 13v3" stroke="#fff" stroke-width="1.5"/></svg>
<svg style="left:159px;top:1170px;" width="24" height="22" viewBox="0 0 24 22"><path d="M1 3h8l2 2h12v15H1z" fill="#f8d775"/><path d="M1 7h22v13H1z" fill="#ffe9a0"/><path d="M7 13h10v7h-3v-3h-4v3H7z" fill="#2fa3e6"/><path d="M5 13h14v2H5z" fill="#2f8ed0"/></svg>
<svg style="left:207px;top:1167px;" width="27" height="26" viewBox="0 0 27 26"><circle cx="14.5" cy="13.5" r="7.6" fill="none" stroke="#4cc4f2" stroke-width="3.8"/><rect x="14.5" y="15" width="10" height="4.2" fill="#0d0f17"/><rect x="7.5" y="12.6" width="15" height="2.6" fill="#4cc4f2"/><path d="M3 23.5C-1 18 11 3 23.5 1.5 26 1.5 26 4 24 6.5" fill="none" stroke="#f2c200" stroke-width="1.7"/></svg>
<svg style="left:257px;top:1168px;" width="25" height="24" viewBox="0 0 25 24"><path d="M1 3L14 0.5V23L1 20.5z" fill="#0f6fc6"/><text x="3.6" y="16.3" font-size="11.5" font-weight="bold" font-family="Liberation Sans" fill="#fff">S</text><path d="M15.5 5L21.8 12 15.5 19" fill="none" stroke="#2a86e0" stroke-width="1.6"/><circle cx="15.5" cy="5.2" r="2.4" fill="#fff" stroke="#2a86e0" stroke-width="1"/><circle cx="21.6" cy="12" r="2.4" fill="#fff" stroke="#2a86e0" stroke-width="1"/><circle cx="15.5" cy="18.8" r="2.4" fill="#fff" stroke="#2a86e0" stroke-width="1"/></svg>
<svg style="left:306px;top:1168px;" width="25" height="24" viewBox="0 0 25 24"><path d="M1 3L14 0.5V23L1 20.5z" fill="#0f6fc6"/><text x="3.6" y="16.3" font-size="11.5" font-weight="bold" font-family="Liberation Sans" fill="#fff">S</text><path d="M15.5 5L21.8 12 15.5 19" fill="none" stroke="#2a86e0" stroke-width="1.6"/><circle cx="15.5" cy="5.2" r="2.4" fill="#fff" stroke="#2a86e0" stroke-width="1"/><circle cx="21.6" cy="12" r="2.4" fill="#fff" stroke="#2a86e0" stroke-width="1"/><circle cx="15.5" cy="18.8" r="2.4" fill="#fff" stroke="#2a86e0" stroke-width="1"/></svg>
<svg style="left:354px;top:1169px;" width="27" height="26" viewBox="0 0 27 26"><circle cx="12" cy="11.5" r="10" fill="#28a8ea"/><circle cx="5" cy="4.5" r="4.5" fill="#28a8ea"/><text x="6.5" y="16.5" font-size="14" font-weight="bold" font-family="Liberation Sans" fill="#fff">S</text><circle cx="20" cy="19.5" r="5.5" fill="#5cb02e" stroke="#fff" stroke-width="1.3"/><path d="M17.5 19.5l2 2 3-3.5" stroke="#fff" stroke-width="1.4" fill="none"/></svg>
<svg style="left:403px;top:1169px;" width="28" height="26" viewBox="0 0 28 26"><path d="M11 4h14v12H11z" fill="#fff" stroke="#0f6fc6" stroke-width="1"/><path d="M11 4l7 6 7-6" fill="none" stroke="#0f6fc6" stroke-width="1.5"/><path d="M0 3l12-3v23L0 20z" fill="#0f6fc6"/><text x="2" y="15.5" font-size="11" font-weight="bold" font-family="Liberation Sans" fill="#fff">O</text><path d="M12 14h15v11H12z" fill="#f0c27b"/><path d="M12 14l7.5 6 7.5-6" fill="none" stroke="#d9a455" stroke-width="1"/></svg>
<div style="left:441px;top:1160px;width:45px;height:40px;background:#33353b;"></div>
<svg style="left:454px;top:1169px;" width="22" height="22" viewBox="0 0 22 22"><rect x="1" y="1" width="20" height="20" fill="#1e0505" stroke="#e8221b" stroke-width="1.6"/><path d="M5 16c2-3 5-9 5-11s-1-2-1 0 3 7 7 8c2 0 2-1 0-1s-7 1-10 4" fill="none" stroke="#eee" stroke-width="1"/></svg>
<div style="left:487px;top:1160px;width:1px;height:38px;background:#3d3f45;"></div>
<svg style="left:502px;top:1169px;" width="25" height="23" viewBox="0 0 25 23"><path d="M9 3h15v17H9z" fill="#fff" stroke="#2b579a" stroke-width="1"/><path d="M12 7h10M12 10h10M12 13h10M12 16h10" stroke="#2b579a" stroke-width="1.2"/><path d="M0 2l13-2v23L0 21z" fill="#2b579a"/><text x="1.5" y="15" font-size="10" font-weight="bold" font-family="Liberation Sans" fill="#fff">W</text></svg>
<div style="left:151px;top:1198px;width:40px;height:2px;background:#76b9ed;"></div>
<div style="left:200px;top:1198px;width:40px;height:2px;background:#76b9ed;"></div>
<div style="left:347px;top:1198px;width:40px;height:2px;background:#76b9ed;"></div>
<div style="left:396px;top:1198px;width:40px;height:2px;background:#76b9ed;"></div>
<div style="left:441px;top:1198px;width:45px;height:2px;background:#76b9ed;"></div>
<div style="left:494px;top:1198px;width:40px;height:2px;background:#76b9ed;"></div>
<div style="left:1920px;top:1010px;width:1680px;height:40px;background:#0d0f17;"></div>
<svg style="left:1935px;top:1022px;" width="18" height="17" viewBox="0 0 18 17"><path d="M0 2.3L7.3 1.3V8H0zM8.3 1.1L17.5 0V8H8.3zM0 9h7.3v6.7L0 14.7zM8.3 9h9.2V17l-9.2-1.2z" fill="#fff"/></svg>
<svg style="left:1983px;top:1022px;" width="18" height="18" viewBox="0 0 18 18"><circle cx="10.5" cy="7" r="6" fill="none" stroke="#fff" stroke-width="1.4"/><path d="M6.2 11.3L1 16.5" stroke="#fff" stroke-width="1.6"/></svg>
<svg style="left:2031px;top:1022px;" width="18" height="17" viewBox="0 0 18 17"><path d="M1 1.5h11M1 15.5h11M2.5 4v9M10.5 4v9M2.5 4h8M2.5 13h8" fill="none" stroke="#fff" stroke-width="1.3"/><path d="M15 1v3M15 6.5v4M15 13v3" stroke="#fff" stroke-width="1.5"/></svg>
<svg style="left:2079px;top:1020px;" width="24" height="22" viewBox="0 0 24 22"><path d="M1 3h8l2 2h12v15H1z" fill="#f8d775"/><path d="M1 7h22v13H1z" fill="#ffe9a0"/><path d="M7 13h10v7h-3v-3h-4v3H7z" fill="#2fa3e6"/><path d="M5 13h14v2H5z" fill="#2f8ed0"/></svg>
<svg style="left:2127px;top:1017px;" width="27" height="26" viewBox="0 0 27 26"><circle cx="14.5" cy="13.5" r="7.6" fill="none" stroke="#4cc4f2" stroke-width="3.8"/><rect x="14.5" y="15" width="10" height="4.2" fill="#0d0f17"/><rect x="7.5" y="12.6" width="15" height="2.6" fill="#4cc4f2"/><path d="M3 23.5C-1 18 11 3 23.5 1.5 26 1.5 26 4 24 6.5" fill="none" stroke="#f2c200" stroke-width="1.7"/></svg>
<svg style="left:2177px;top:1018px;" width="25" height="24" viewBox="0 0 25 24"><path d="M1 3L14 0.5V23L1 20.5z" fill="#0f6fc6"/><text x="3.6" y="16.3" font-size="11.5" font-weight="bold" font-family="Liberation Sans" fill="#fff">S</text><path d="M15.5 5L21.8 12 15.5 19" fill="none" stroke="#2a86e0" stroke-width="1.6"/><circle cx="15.5" cy="5.2" r="2.4" fill="#fff" stroke="#2a86e0" stroke-width="1"/><circle cx="21.6" cy="12" r="2.4" fill="#fff" stroke="#2a86e0" stroke-width="1"/><circle cx="15.5" cy="18.8" r="2.4" fill="#fff" stroke="#2a86e0" stroke-width="1"/></svg>
<svg style="left:2226px;top:1018px;" width="25" height="24" viewBox="0 0 25 24"><path d="M1 3L14 0.5V23L1 20.5z" fill="#0f6fc6"/><text x="3.6" y="16.3" font-size="11.5" font-weight="bold" font-family="Liberation Sans" fill="#fff">S</text><path d="M15.5 5L21.8 12 15.5 19" fill="none" stroke="#2a86e0" stroke-width="1.6"/><circle cx="15.5" cy="5.2" r="2.4" fill="#fff" stroke="#2a86e0" stroke-width="1"/><circle cx="21.6" cy="12" r="2.4" fill="#fff" stroke="#2a86e0" stroke-width="1"/><circle cx="15.5" cy="18.8" r="2.4" fill="#fff" stroke="#2a86e0" stroke-width="1"/></svg>
<svg style="left:2274px;top:1019px;" width="27" height="26" viewBox="0 0 27 26"><circle cx="12" cy="11.5" r="10" fill="#28a8ea"/><circle cx="5" cy="4.5" r="4.5" fill="#28a8ea"/><text x="6.5" y="16.5" font-size="14" font-weight="bold" font-family="Liberation Sans" fill="#fff">S</text><circle cx="20" cy="19.5" r="5.5" fill="#5cb02e" stroke="#fff" stroke-width="1.3"/><path d="M17.5 19.5l2 2 3-3.5" stroke="#fff" stroke-width="1.4" fill="none"/></svg>
<svg style="left:2323px;top:1019px;" width="28" height="26" viewBox="0 0 28 26"><path d="M11 4h14v12H11z" fill="#fff" stroke="#0f6fc6" stroke-width="1"/><path d="M11 4l7 6 7-6" fill="none" stroke="#0f6fc6" stroke-width="1.5"/><path d="M0 3l12-3v23L0 20z" fill="#0f6fc6"/><text x="2" y="15.5" font-size="11" font-weight="bold" font-family="Liberation Sans" fill="#fff">O</text><path d="M12 14h15v11H12z" fill="#f0c27b"/><path d="M12 14l7.5 6 7.5-6" fill="none" stroke="#d9a455" stroke-width="1"/></svg>
<div style="left:2361px;top:1010px;width:45px;height:40px;background:#33353b;"></div>
<svg style="left:2374px;top:1019px;" width="22" height="22" viewBox="0 0 22 22"><rect x="1" y="1" width="20" height="20" fill="#1e0505" stroke="#e8221b" stroke-width="1.6"/><path d="M5 16c2-3 5-9 5-11s-1-2-1 0 3 7 7 8c2 0 2-1 0-1s-7 1-10 4" fill="none" stroke="#eee" stroke-width="1"/></svg>
<div style="left:2407px;top:1010px;width:1px;height:38px;background:#3d3f45;"></div>
<svg style="left:2422px;top:1019px;" width="25" height="23" viewBox="0 0 25 23"><path d="M9 3h15v17H9z" fill="#fff" stroke="#2b579a" stroke-width="1"/><path d="M12 7h10M12 10h10M12 13h10M12 16h10" stroke="#2b579a" stroke-width="1.2"/><path d="M0 2l13-2v23L0 21z" fill="#2b579a"/><text x="1.5" y="15" font-size="10" font-weight="bold" font-family="Liberation Sans" fill="#fff">W</text></svg>
<div style="left:2071px;top:1048px;width:40px;height:2px;background:#76b9ed;"></div>
<div style="left:2120px;top:1048px;width:40px;height:2px;background:#76b9ed;"></div>
<div style="left:2267px;top:1048px;width:40px;height:2px;background:#76b9ed;"></div>
<div style="left:2316px;top:1048px;width:40px;height:2px;background:#76b9ed;"></div>
<div style="left:2361px;top:1048px;width:45px;height:2px;background:#76b9ed;"></div>
<div style="left:2414px;top:1048px;width:40px;height:2px;background:#76b9ed;"></div>
<svg style="left:1652px;top:1175px;" width="14" height="9" viewBox="0 0 14 9"><path d="M1 8l6-6 6 6" fill="none" stroke="#fff" stroke-width="1.3"/></svg>
<svg style="left:1682px;top:1174px;" width="18" height="12" viewBox="0 0 18 12"><path d="M4 11.5a3.5 3.5 0 0 1 0-7 5 5 0 0 1 9.5-1 3.8 3.8 0 0 1 .5 8z" fill="#1e88dc"/></svg>
<svg style="left:1714px;top:1173px;" width="18" height="14" viewBox="0 0 18 14"><rect x="0.8" y="0.8" width="15.5" height="10" fill="none" stroke="#fff" stroke-width="1"/><path d="M8.5 11v2M5 13.5h7" stroke="#fff" stroke-width="1"/></svg>
<svg style="left:1746px;top:1173px;" width="18" height="14" viewBox="0 0 18 14"><path d="M1 4v2.5a2 2 0 0 0 4 0V4M2 1.5v2.5M4 1.5v2.5M3 8.5v5" stroke="#fff" stroke-width="1" fill="none"/><rect x="5.5" y="4" width="11" height="6.5" fill="none" stroke="#fff" stroke-width="1"/><rect x="17" y="6" width="1" height="2.5" fill="#fff"/><rect x="7" y="5.5" width="7" height="3.5" fill="#fff"/></svg>
<svg style="left:1778px;top:1172px;" width="18" height="16" viewBox="0 0 18 16"><path d="M1 5.5h3l4-4v13l-4-4H1z" fill="none" stroke="#fff" stroke-width="1"/><path d="M10.5 5.5a3 3 0 0 1 0 5M12.5 3.5a6 6 0 0 1 0 9M14.5 1.5a9 9 0 0 1 0 13" fill="none" stroke="#bbb" stroke-width="0.9"/></svg>
<div style="left:1811.65px;top:1164.64px;font-size:12px;line-height:12px;color:#fff;font-family:'Liberation Sans', sans-serif;white-space:pre;transform:scaleX(0.9171);transform-origin:0 0;">12:27 PM</div>
<div style="left:1810.00px;top:1182.34px;font-size:12px;line-height:12px;color:#fff;font-family:'Liberation Sans', sans-serif;white-space:pre;transform:scaleX(0.9554);transform-origin:0 0;">1/31/2020</div>
<svg style="left:1878px;top:1172px;" width="28" height="26" viewBox="0 0 28 26"><path d="M1 1h16v10H7l-3 3v-3H1z" fill="#fff"/><path d="M4 4h10M4 7h10" stroke="#0d0f17" stroke-width="1"/><circle cx="16.5" cy="14.5" r="8.5" fill="#3a3a3a" stroke="#888" stroke-width="1"/><text x="16.5" y="18.5" font-size="10.5" font-family="Liberation Sans" fill="#fff" text-anchor="middle">21</text></svg>
<div style="left:1915px;top:1165px;width:1px;height:35px;background:#555;"></div>
<div style="left:3544.30px;top:1014.84px;font-size:12px;line-height:12px;color:#fff;font-family:'Liberation Sans', sans-serif;white-space:pre;transform:scaleX(0.9151);transform-origin:0 0;">12:27 PM</div>
<div style="left:3542.60px;top:1032.74px;font-size:12px;line-height:12px;color:#fff;font-family:'Liberation Sans', sans-serif;white-space:pre;transform:scaleX(0.9442);transform-origin:0 0;">1/31/2020</div>
</body></html>
